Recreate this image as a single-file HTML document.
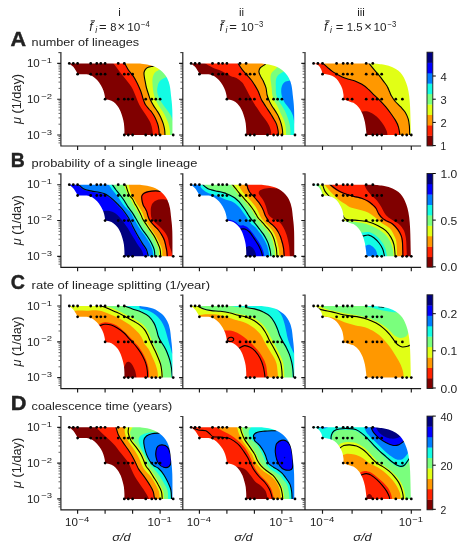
<!DOCTYPE html>
<html><head><meta charset="utf-8"><title>figure</title>
<style>html,body{margin:0;padding:0;background:#fff}svg{display:block}</style></head>
<body>
<svg width="469" height="550" viewBox="0 0 469 550" font-family="'Liberation Sans', sans-serif" fill="#000">
<rect width="469" height="550" fill="#fff"/>
<defs>
<mask id="cp00" maskUnits="userSpaceOnUse" x="0" y="0" width="469" height="550"><path d="M69,63.4C69.7,63.9 71.8,65.3 73,66.6C74.2,67.9 75.3,69.8 76.1,71.1C76.9,72.4 77.4,73.7 77.7,74.2L77.7,74.2C78.6,74.2 81.3,74.2 83,74.2C84.7,74.2 86.5,74.1 88.1,74.4C89.7,74.7 91.1,75.3 92.6,76.2C94.1,77.1 95.7,78.5 97.1,80C98.5,81.5 99.9,83.5 100.9,85.2C102,87 102.8,88.8 103.4,90.5C104,92.2 104.4,94 104.7,95.5C105,97 105,98.7 105,99.3L105,99.3C105.7,99.4 107.8,99.5 109.2,100C110.7,100.5 112.3,101.1 113.7,102.1C115.1,103.1 116.3,104.4 117.5,106C118.7,107.6 119.9,109.8 120.7,111.7C121.5,113.6 122.1,115.6 122.6,117.5C123.1,119.4 123.6,121.2 123.9,123.2C124.2,125.2 124.3,127.6 124.4,129.6C124.5,131.6 124.4,134.1 124.4,135L172.5,135C172.5,130.8 172.5,116.3 172.3,110C172.1,103.7 171.6,100.8 171.2,97C170.8,93.2 170.5,89.7 170,87C169.5,84.3 169.1,83 168.4,81.1C167.7,79.2 166.8,77.4 165.7,75.8C164.6,74.2 163.3,72.8 162,71.5C160.7,70.2 159.2,69.2 157.7,68.3C156.2,67.4 154.7,66.7 152.9,66C151.1,65.3 149.2,64.8 147,64.4C144.8,64 141.2,63.6 140,63.4Z" fill="#fff"/></mask>
<mask id="cp01" maskUnits="userSpaceOnUse" x="0" y="0" width="469" height="550"><path d="M190.8,63.4C191.5,63.9 193.6,65.3 194.8,66.6C196,67.9 197.1,69.8 197.9,71.1C198.7,72.4 199.2,73.7 199.5,74.2L199.5,74.2C200.4,74.2 203.1,74.2 204.8,74.2C206.5,74.2 208.3,74.1 209.9,74.4C211.5,74.7 212.9,75.3 214.4,76.2C215.9,77.1 217.5,78.5 218.9,80C220.3,81.5 221.6,83.5 222.7,85.2C223.8,87 224.6,88.8 225.2,90.5C225.8,92.2 226.2,94 226.5,95.5C226.8,97 226.8,98.7 226.8,99.3L226.8,99.3C227.5,99.4 229.6,99.5 231,100C232.4,100.5 234.1,101.1 235.5,102.1C236.9,103.1 238.1,104.4 239.3,106C240.5,107.6 241.7,109.8 242.5,111.7C243.3,113.6 243.9,115.6 244.4,117.5C244.9,119.4 245.4,121.2 245.7,123.2C246,125.2 246.1,127.6 246.2,129.6C246.3,131.6 246.2,134.1 246.2,135L294.3,135C294.3,130.8 294.3,116.3 294.1,110C293.9,103.7 293.4,100.8 293,97C292.6,93.2 292.3,89.7 291.8,87C291.3,84.3 290.9,83 290.2,81.1C289.5,79.2 288.6,77.4 287.5,75.8C286.4,74.2 285.1,72.8 283.8,71.5C282.5,70.2 281,69.2 279.5,68.3C278,67.4 276.5,66.7 274.7,66C272.9,65.3 270.9,64.8 268.8,64.4C266.7,64 263,63.6 261.8,63.4Z" fill="#fff"/></mask>
<mask id="cp02" maskUnits="userSpaceOnUse" x="0" y="0" width="469" height="550"><path d="M313.5,63.4C314.2,63.7 316.6,64.1 317.9,65.1C319.2,66.1 320.3,67.7 321.1,69.2C321.9,70.7 322.4,73.3 322.6,74.1L322.6,74.1C323.4,74.2 325.9,74.2 327.5,74.5C329.1,74.8 330.5,75.1 332,75.8C333.5,76.5 335.1,77.6 336.4,78.8C337.7,80 338.6,81.6 339.6,83.2C340.6,84.8 341.6,86.5 342.2,88.4C342.8,90.3 343.3,93 343.5,94.8C343.7,96.6 343.3,98.5 343.3,99.3L343.3,99.3C344.4,99.7 348.1,101 350,101.7C351.9,102.4 353,102.4 354.5,103.4C356,104.4 357.6,105.9 359,107.7C360.4,109.5 361.7,112 362.7,114.4C363.7,116.8 364.3,119.4 364.9,121.9C365.4,124.4 365.7,127.1 366,129.3C366.3,131.5 366.4,134.1 366.5,135L410.9,135C410.8,132.5 410.6,124.7 410.5,120C410.4,115.3 410.3,111 410.1,107C409.9,103 409.6,99.3 409.2,96C408.8,92.7 408.2,89.7 407.5,87C406.8,84.3 405.9,82 405,80C404.1,78 403.4,76.5 402.3,75C401.2,73.5 400.1,72.1 398.5,70.8C396.9,69.5 394.9,68.2 392.5,67.2C390.1,66.2 387.4,65.3 384.3,64.7C381.2,64.1 375.7,63.6 374,63.4Z" fill="#fff"/></mask>
<mask id="cp10" maskUnits="userSpaceOnUse" x="0" y="0" width="469" height="550"><path d="M69,184.7C69.7,185.2 71.8,186.6 73,187.9C74.2,189.2 75.3,191.1 76.1,192.4C76.9,193.7 77.4,195 77.7,195.5L77.7,195.5C78.6,195.5 81.3,195.5 83,195.5C84.7,195.5 86.5,195.4 88.1,195.7C89.7,196 91.1,196.6 92.6,197.5C94.1,198.4 95.7,199.8 97.1,201.3C98.5,202.8 99.9,204.8 100.9,206.5C102,208.2 102.8,210.1 103.4,211.8C104,213.5 104.4,215.3 104.7,216.8C105,218.3 105,220 105,220.6L105,220.6C105.7,220.7 107.8,220.8 109.2,221.3C110.7,221.8 112.3,222.4 113.7,223.4C115.1,224.4 116.3,225.7 117.5,227.3C118.7,228.9 119.9,231.1 120.7,233C121.5,234.9 122.1,236.9 122.6,238.8C123.1,240.7 123.6,242.5 123.9,244.5C124.2,246.5 124.3,248.9 124.4,250.9C124.5,252.9 124.4,255.4 124.4,256.3L172.5,256.3C172.5,252.1 172.5,237.6 172.3,231.3C172.1,225 171.6,222.1 171.2,218.3C170.8,214.5 170.5,211 170,208.3C169.5,205.7 169.1,204.3 168.4,202.4C167.7,200.5 166.8,198.7 165.7,197.1C164.6,195.5 163.3,194.1 162,192.8C160.7,191.6 159.2,190.5 157.7,189.6C156.2,188.7 154.7,188 152.9,187.3C151.1,186.7 149.2,186.1 147,185.7C144.8,185.3 141.2,184.9 140,184.7Z" fill="#fff"/></mask>
<mask id="cp11" maskUnits="userSpaceOnUse" x="0" y="0" width="469" height="550"><path d="M190.8,184.7C191.5,185.2 193.6,186.6 194.8,187.9C196,189.2 197.1,191.1 197.9,192.4C198.7,193.7 199.2,195 199.5,195.5L199.5,195.5C200.4,195.5 203.1,195.5 204.8,195.5C206.5,195.5 208.3,195.4 209.9,195.7C211.5,196 212.9,196.6 214.4,197.5C215.9,198.4 217.5,199.8 218.9,201.3C220.3,202.8 221.6,204.8 222.7,206.5C223.8,208.2 224.6,210.1 225.2,211.8C225.8,213.5 226.2,215.3 226.5,216.8C226.8,218.3 226.8,220 226.8,220.6L226.8,220.6C227.5,220.7 229.6,220.8 231,221.3C232.4,221.8 234.1,222.4 235.5,223.4C236.9,224.4 238.1,225.7 239.3,227.3C240.5,228.9 241.7,231.1 242.5,233C243.3,234.9 243.9,236.9 244.4,238.8C244.9,240.7 245.4,242.5 245.7,244.5C246,246.5 246.1,248.9 246.2,250.9C246.3,252.9 246.2,255.4 246.2,256.3L294.3,256.3C294.3,252.1 294.3,237.6 294.1,231.3C293.9,225 293.4,222.1 293,218.3C292.6,214.5 292.3,211 291.8,208.3C291.3,205.7 290.9,204.3 290.2,202.4C289.5,200.5 288.6,198.7 287.5,197.1C286.4,195.5 285.1,194.1 283.8,192.8C282.5,191.6 281,190.5 279.5,189.6C278,188.7 276.5,188 274.7,187.3C272.9,186.7 270.9,186.1 268.8,185.7C266.7,185.3 263,184.9 261.8,184.7Z" fill="#fff"/></mask>
<mask id="cp12" maskUnits="userSpaceOnUse" x="0" y="0" width="469" height="550"><path d="M313.5,184.7C314.2,185 316.6,185.4 317.9,186.4C319.2,187.4 320.3,189 321.1,190.5C321.9,192 322.4,194.6 322.6,195.4L322.6,195.4C323.4,195.5 325.9,195.5 327.5,195.8C329.1,196.1 330.5,196.4 332,197.1C333.5,197.8 335.1,198.9 336.4,200.1C337.7,201.3 338.6,202.9 339.6,204.5C340.6,206.1 341.6,207.8 342.2,209.7C342.8,211.6 343.3,214.3 343.5,216.1C343.7,217.9 343.3,219.8 343.3,220.6L343.3,220.6C344.4,221 348.1,222.3 350,223C351.9,223.7 353,223.7 354.5,224.7C356,225.7 357.6,227.2 359,229C360.4,230.8 361.7,233.3 362.7,235.7C363.7,238.1 364.3,240.7 364.9,243.2C365.4,245.7 365.7,248.4 366,250.6C366.3,252.8 366.4,255.4 366.5,256.3L410.9,256.3C410.8,253.8 410.6,246 410.5,241.3C410.4,236.6 410.3,232.3 410.1,228.3C409.9,224.3 409.6,220.6 409.2,217.3C408.8,214 408.2,211 407.5,208.3C406.8,205.6 405.9,203.3 405,201.3C404.1,199.3 403.4,197.8 402.3,196.3C401.2,194.8 400.1,193.4 398.5,192.1C396.9,190.8 394.9,189.5 392.5,188.5C390.1,187.5 387.4,186.6 384.3,186C381.2,185.4 375.7,184.9 374,184.7Z" fill="#fff"/></mask>
<mask id="cp20" maskUnits="userSpaceOnUse" x="0" y="0" width="469" height="550"><path d="M69,306C69.7,306.5 71.8,307.9 73,309.2C74.2,310.5 75.3,312.4 76.1,313.7C76.9,315 77.4,316.3 77.7,316.8L77.7,316.8C78.6,316.8 81.3,316.8 83,316.8C84.7,316.8 86.5,316.7 88.1,317C89.7,317.3 91.1,317.9 92.6,318.8C94.1,319.7 95.7,321.1 97.1,322.6C98.5,324.1 99.9,326.1 100.9,327.8C102,329.6 102.8,331.4 103.4,333.1C104,334.8 104.4,336.6 104.7,338.1C105,339.6 105,341.3 105,341.9L105,341.9C105.7,342 107.8,342.1 109.2,342.6C110.7,343.1 112.3,343.7 113.7,344.7C115.1,345.7 116.3,347 117.5,348.6C118.7,350.2 119.9,352.4 120.7,354.3C121.5,356.2 122.1,358.2 122.6,360.1C123.1,362 123.6,363.8 123.9,365.8C124.2,367.8 124.3,370.2 124.4,372.2C124.5,374.2 124.4,376.7 124.4,377.6L172.5,377.6C172.5,373.4 172.5,358.9 172.3,352.6C172.1,346.3 171.6,343.4 171.2,339.6C170.8,335.8 170.5,332.2 170,329.6C169.5,327 169.1,325.6 168.4,323.7C167.7,321.8 166.8,320 165.7,318.4C164.6,316.8 163.3,315.4 162,314.1C160.7,312.9 159.2,311.8 157.7,310.9C156.2,310 154.7,309.2 152.9,308.6C151.1,308 149.2,307.4 147,307C144.8,306.6 141.2,306.2 140,306Z" fill="#fff"/></mask>
<mask id="cp21" maskUnits="userSpaceOnUse" x="0" y="0" width="469" height="550"><path d="M190.8,306C191.5,306.5 193.6,307.9 194.8,309.2C196,310.5 197.1,312.4 197.9,313.7C198.7,315 199.2,316.3 199.5,316.8L199.5,316.8C200.4,316.8 203.1,316.8 204.8,316.8C206.5,316.8 208.3,316.7 209.9,317C211.5,317.3 212.9,317.9 214.4,318.8C215.9,319.7 217.5,321.1 218.9,322.6C220.3,324.1 221.6,326.1 222.7,327.8C223.8,329.6 224.6,331.4 225.2,333.1C225.8,334.8 226.2,336.6 226.5,338.1C226.8,339.6 226.8,341.3 226.8,341.9L226.8,341.9C227.5,342 229.6,342.1 231,342.6C232.4,343.1 234.1,343.7 235.5,344.7C236.9,345.7 238.1,347 239.3,348.6C240.5,350.2 241.7,352.4 242.5,354.3C243.3,356.2 243.9,358.2 244.4,360.1C244.9,362 245.4,363.8 245.7,365.8C246,367.8 246.1,370.2 246.2,372.2C246.3,374.2 246.2,376.7 246.2,377.6L294.3,377.6C294.3,373.4 294.3,358.9 294.1,352.6C293.9,346.3 293.4,343.4 293,339.6C292.6,335.8 292.3,332.2 291.8,329.6C291.3,327 290.9,325.6 290.2,323.7C289.5,321.8 288.6,320 287.5,318.4C286.4,316.8 285.1,315.4 283.8,314.1C282.5,312.9 281,311.8 279.5,310.9C278,310 276.5,309.2 274.7,308.6C272.9,308 270.9,307.4 268.8,307C266.7,306.6 263,306.2 261.8,306Z" fill="#fff"/></mask>
<mask id="cp22" maskUnits="userSpaceOnUse" x="0" y="0" width="469" height="550"><path d="M313.5,306C314.2,306.3 316.6,306.7 317.9,307.7C319.2,308.7 320.3,310.3 321.1,311.8C321.9,313.3 322.4,315.9 322.6,316.7L322.6,316.7C323.4,316.8 325.9,316.8 327.5,317.1C329.1,317.4 330.5,317.7 332,318.4C333.5,319.1 335.1,320.2 336.4,321.4C337.7,322.6 338.6,324.2 339.6,325.8C340.6,327.4 341.6,329.1 342.2,331C342.8,332.9 343.3,335.6 343.5,337.4C343.7,339.2 343.3,341.1 343.3,341.9L343.3,341.9C344.4,342.3 348.1,343.6 350,344.3C351.9,345 353,345 354.5,346C356,347 357.6,348.5 359,350.3C360.4,352.1 361.7,354.6 362.7,357C363.7,359.4 364.3,362 364.9,364.5C365.4,367 365.7,369.7 366,371.9C366.3,374.1 366.4,376.7 366.5,377.6L410.9,377.6C410.8,375.1 410.6,367.3 410.5,362.6C410.4,357.9 410.3,353.6 410.1,349.6C409.9,345.6 409.6,341.9 409.2,338.6C408.8,335.3 408.2,332.3 407.5,329.6C406.8,326.9 405.9,324.6 405,322.6C404.1,320.6 403.4,319.1 402.3,317.6C401.2,316.1 400.1,314.7 398.5,313.4C396.9,312.1 394.9,310.8 392.5,309.8C390.1,308.8 387.4,307.9 384.3,307.3C381.2,306.7 375.7,306.2 374,306Z" fill="#fff"/></mask>
<mask id="cp30" maskUnits="userSpaceOnUse" x="0" y="0" width="469" height="550"><path d="M69,427.3C69.7,427.8 71.8,429.2 73,430.5C74.2,431.8 75.3,433.7 76.1,435C76.9,436.3 77.4,437.6 77.7,438.1L77.7,438.1C78.6,438.1 81.3,438.1 83,438.1C84.7,438.1 86.5,438 88.1,438.3C89.7,438.6 91.1,439.2 92.6,440.1C94.1,441 95.7,442.4 97.1,443.9C98.5,445.4 99.9,447.3 100.9,449.1C102,450.8 102.8,452.7 103.4,454.4C104,456.1 104.4,457.9 104.7,459.4C105,460.9 105,462.6 105,463.2L105,463.2C105.7,463.3 107.8,463.4 109.2,463.9C110.7,464.4 112.3,465 113.7,466C115.1,467 116.3,468.3 117.5,469.9C118.7,471.5 119.9,473.7 120.7,475.6C121.5,477.5 122.1,479.5 122.6,481.4C123.1,483.3 123.6,485.1 123.9,487.1C124.2,489.1 124.3,491.5 124.4,493.5C124.5,495.5 124.4,498 124.4,498.9L172.5,498.9C172.5,494.7 172.5,480.2 172.3,473.9C172.1,467.6 171.6,464.7 171.2,460.9C170.8,457.1 170.5,453.5 170,450.9C169.5,448.2 169.1,446.9 168.4,445C167.7,443.1 166.8,441.3 165.7,439.7C164.6,438.1 163.3,436.6 162,435.4C160.7,434.1 159.2,433.1 157.7,432.2C156.2,431.3 154.7,430.5 152.9,429.9C151.1,429.2 149.2,428.7 147,428.3C144.8,427.9 141.2,427.5 140,427.3Z" fill="#fff"/></mask>
<mask id="cp31" maskUnits="userSpaceOnUse" x="0" y="0" width="469" height="550"><path d="M190.8,427.3C191.5,427.8 193.6,429.2 194.8,430.5C196,431.8 197.1,433.7 197.9,435C198.7,436.3 199.2,437.6 199.5,438.1L199.5,438.1C200.4,438.1 203.1,438.1 204.8,438.1C206.5,438.1 208.3,438 209.9,438.3C211.5,438.6 212.9,439.2 214.4,440.1C215.9,441 217.5,442.4 218.9,443.9C220.3,445.4 221.6,447.3 222.7,449.1C223.8,450.8 224.6,452.7 225.2,454.4C225.8,456.1 226.2,457.9 226.5,459.4C226.8,460.9 226.8,462.6 226.8,463.2L226.8,463.2C227.5,463.3 229.6,463.4 231,463.9C232.4,464.4 234.1,465 235.5,466C236.9,467 238.1,468.3 239.3,469.9C240.5,471.5 241.7,473.7 242.5,475.6C243.3,477.5 243.9,479.5 244.4,481.4C244.9,483.3 245.4,485.1 245.7,487.1C246,489.1 246.1,491.5 246.2,493.5C246.3,495.5 246.2,498 246.2,498.9L294.3,498.9C294.3,494.7 294.3,480.2 294.1,473.9C293.9,467.6 293.4,464.7 293,460.9C292.6,457.1 292.3,453.5 291.8,450.9C291.3,448.2 290.9,446.9 290.2,445C289.5,443.1 288.6,441.3 287.5,439.7C286.4,438.1 285.1,436.6 283.8,435.4C282.5,434.1 281,433.1 279.5,432.2C278,431.3 276.5,430.5 274.7,429.9C272.9,429.2 270.9,428.7 268.8,428.3C266.7,427.9 263,427.5 261.8,427.3Z" fill="#fff"/></mask>
<mask id="cp32" maskUnits="userSpaceOnUse" x="0" y="0" width="469" height="550"><path d="M313.5,427.3C314.2,427.6 316.6,428 317.9,429C319.2,430 320.3,431.6 321.1,433.1C321.9,434.6 322.4,437.2 322.6,438L322.6,438C323.4,438.1 325.9,438.1 327.5,438.4C329.1,438.7 330.5,439 332,439.7C333.5,440.4 335.1,441.5 336.4,442.7C337.7,443.9 338.6,445.5 339.6,447.1C340.6,448.7 341.6,450.4 342.2,452.3C342.8,454.2 343.3,456.9 343.5,458.7C343.7,460.5 343.3,462.4 343.3,463.2L343.3,463.2C344.4,463.6 348.1,464.9 350,465.6C351.9,466.3 353,466.3 354.5,467.3C356,468.3 357.6,469.8 359,471.6C360.4,473.4 361.7,475.9 362.7,478.3C363.7,480.7 364.3,483.3 364.9,485.8C365.4,488.3 365.7,491 366,493.2C366.3,495.4 366.4,497.9 366.5,498.9L410.9,498.9C410.8,496.4 410.6,488.6 410.5,483.9C410.4,479.2 410.3,474.9 410.1,470.9C409.9,466.9 409.6,463.2 409.2,459.9C408.8,456.6 408.2,453.6 407.5,450.9C406.8,448.2 405.9,445.9 405,443.9C404.1,441.9 403.4,440.4 402.3,438.9C401.2,437.4 400.1,436 398.5,434.7C396.9,433.4 394.9,432.1 392.5,431.1C390.1,430.1 387.4,429.2 384.3,428.6C381.2,428 375.7,427.5 374,427.3Z" fill="#fff"/></mask>
</defs>
<g mask="url(#cp00)">
<rect x="57.3" y="55.4" width="131.7" height="87.6" fill="#800000"/>
<g transform="translate(0.5,0)">
<path d="M111.2,61.1C111.5,61.5 111.7,61.8 113,63.5C114.3,65.2 117,68.8 119,71.4C121,74 123,76.3 125,78.9C127,81.5 129.4,84.3 131,87C132.6,89.7 133.6,92.6 134.7,95C135.8,97.4 136.3,99.3 137.3,101.4C138.3,103.5 139.2,105.7 140.5,107.8C141.8,109.9 143.5,112.1 144.9,114.2C146.3,116.3 147.7,118.5 148.8,120.6C149.9,122.7 150.7,124.5 151.3,127C151.9,129.4 152.3,133.4 152.6,135.3C152.9,137.2 153,137.8 153.1,138.3L189,138.3L189,55.4L111.2,55.4Z" fill="#ff2200"/>
<path d="M122.7,60.9C123,61.3 123.3,62 124.2,63.5C125.1,65 126.4,67.8 127.9,70C129.4,72.2 131.6,74.3 133.1,76.6C134.6,78.9 135.9,81.5 137,83.8C138.1,86.1 139.1,88.4 139.9,90.3C140.7,92.2 141.1,93.8 141.6,95.4C142.1,97 142.3,98.1 142.9,99.7C143.5,101.3 144,103.2 145,104.8C146,106.4 147.8,108.2 148.8,109.5C149.9,110.8 150.4,111 151.3,112.3C152.2,113.6 153.5,115.5 154.5,117.4C155.5,119.3 156.4,121.8 157.1,123.8C157.8,125.8 158.1,127.6 158.4,129.5C158.7,131.4 158.6,133.8 158.7,135.3C158.8,136.8 158.8,137.8 158.9,138.3L189,138.3L189,55.4L122.7,55.4Z" fill="#ff9800"/>
<path d="M155.3,65.5C154.8,65.6 153.7,65.9 152.4,66.2C151.1,66.5 148.8,66.8 147.6,67.3C146.3,67.8 145.6,68.5 144.9,69.4C144.2,70.3 143.7,71.3 143.5,72.6C143.3,73.9 143.7,75.7 143.9,77.4C144.1,79.1 144.6,80.9 144.9,82.7C145.2,84.5 145.5,86.1 146,88C146.5,89.9 147.3,92.2 148,94.2C148.7,96.2 149.1,98.1 150,100.1C150.9,102 152,104 153.2,105.9C154.4,107.8 155.9,109.7 157.1,111.6C158.3,113.5 159.4,115.4 160.3,117.4C161.2,119.4 162.2,121.8 162.8,123.8C163.4,125.8 163.8,127.6 164.1,129.5C164.4,131.4 164.4,133.8 164.5,135.3C164.6,136.8 164.7,137.8 164.7,138.3L189,138.3L189,55.4L155.3,55.4Z" fill="#e1ff16"/>
<path d="M161.9,67.8C161.4,68.1 160.4,68.7 159.3,69.4C158.2,70.1 156.1,71 155,72C153.9,73 153.4,74 152.9,75.3C152.4,76.5 152,77.9 151.9,79.5C151.8,81.1 152,83.1 152.1,84.9C152.2,86.7 152.4,88.5 152.6,90.2C152.8,91.9 153.1,93.3 153.5,95C153.9,96.7 154.4,98.3 155.2,100.1C156,101.9 157.2,104 158.4,105.9C159.6,107.8 161,109.7 162.2,111.6C163.4,113.5 164.4,115.4 165.4,117.4C166.4,119.4 167.4,121.8 168,123.8C168.6,125.8 168.9,127.6 169.2,129.5C169.5,131.4 169.5,133.8 169.6,135.3C169.7,136.8 169.8,137.8 169.8,138.3L189,138.3L189,55.4L161.9,55.4Z" fill="#7aff7d"/>
<path d="M168.9,75.6C168.4,75.8 167.3,76.3 166.2,76.9C165.1,77.5 163.2,78.2 162,79C160.8,79.8 159.6,80.5 158.8,81.7C158,82.9 157.5,84.3 157.2,85.9C156.8,87.5 156.6,89.7 156.7,91.2C156.8,92.7 157,93.5 157.5,95C158,96.5 158.6,98.3 159.6,100.1C160.6,101.9 162.2,104.1 163.5,105.9C164.8,107.7 166.1,109.3 167.3,111C168.5,112.7 169.7,114.5 170.5,116.1C171.3,117.7 171.7,119.4 172.2,120.6C172.7,121.8 173.1,122.9 173.3,123.4L189,123.4L189,55.4L168.9,55.4Z" fill="#13fce4"/>
<path d="M123.2,61.8C123.4,62.1 123.4,62.1 124.2,63.5C125,64.9 126.4,67.8 127.9,70C129.4,72.2 131.6,74.3 133.1,76.6C134.6,78.9 135.9,81.5 137,83.8C138.1,86.1 139.1,88.4 139.9,90.3C140.7,92.2 141.1,93.8 141.6,95.4C142.1,97 142.3,98.1 142.9,99.7C143.5,101.3 144,103.2 145,104.8C146,106.4 147.8,108.2 148.8,109.5C149.9,110.8 150.4,111 151.3,112.3C152.2,113.6 153.5,115.5 154.5,117.4C155.5,119.3 156.4,121.8 157.1,123.8C157.8,125.8 158.1,127.6 158.4,129.5C158.7,131.4 158.6,134 158.7,135.3C158.8,136.6 158.8,137 158.8,137.3" fill="none" stroke="#000" stroke-width="1.1"/>
<path d="M154.3,65.8C154,65.8 153.5,65.9 152.4,66.2C151.3,66.5 148.8,66.8 147.6,67.3C146.3,67.8 145.6,68.5 144.9,69.4C144.2,70.3 143.7,71.3 143.5,72.6C143.3,73.9 143.7,75.7 143.9,77.4C144.1,79.1 144.6,80.9 144.9,82.7C145.2,84.5 145.5,86.1 146,88C146.5,89.9 147.3,92.2 148,94.2C148.7,96.2 149.1,98.1 150,100.1C150.9,102 152,104 153.2,105.9C154.4,107.8 155.9,109.7 157.1,111.6C158.3,113.5 159.4,115.4 160.3,117.4C161.2,119.4 162.2,121.8 162.8,123.8C163.4,125.8 163.8,127.6 164.1,129.5C164.4,131.4 164.4,134 164.5,135.3C164.6,136.6 164.6,137 164.6,137.3" fill="none" stroke="#000" stroke-width="1.1"/>
</g>
</g>
<g><circle cx="69.3" cy="63.4" r="1.38"/><circle cx="73.3" cy="63.4" r="1.38"/><circle cx="77.6" cy="63.4" r="1.38"/><circle cx="90.7" cy="63.4" r="1.38"/><circle cx="96.8" cy="63.4" r="1.38"/><circle cx="100.8" cy="63.4" r="1.38"/><circle cx="105.1" cy="63.4" r="1.38"/><circle cx="118.2" cy="63.4" r="1.38"/><circle cx="124.3" cy="63.4" r="1.38"/><circle cx="77.6" cy="74.2" r="1.38"/><circle cx="90.7" cy="74.2" r="1.38"/><circle cx="96.8" cy="74.2" r="1.38"/><circle cx="100.8" cy="74.2" r="1.38"/><circle cx="105.1" cy="74.2" r="1.38"/><circle cx="118.2" cy="74.2" r="1.38"/><circle cx="124.3" cy="74.2" r="1.38"/><circle cx="128.3" cy="74.2" r="1.38"/><circle cx="132.6" cy="74.2" r="1.38"/><circle cx="105.1" cy="99.2" r="1.38"/><circle cx="118.2" cy="99.2" r="1.38"/><circle cx="124.3" cy="99.2" r="1.38"/><circle cx="128.3" cy="99.2" r="1.38"/><circle cx="132.6" cy="99.2" r="1.38"/><circle cx="145.7" cy="99.2" r="1.38"/><circle cx="151.8" cy="99.2" r="1.38"/><circle cx="155.8" cy="99.2" r="1.38"/><circle cx="160.1" cy="99.2" r="1.38"/><circle cx="124.3" cy="135" r="1.38"/><circle cx="128.3" cy="135" r="1.38"/><circle cx="132.6" cy="135" r="1.38"/><circle cx="145.7" cy="135" r="1.38"/><circle cx="151.8" cy="135" r="1.38"/><circle cx="155.8" cy="135" r="1.38"/><circle cx="160.1" cy="135" r="1.38"/><circle cx="173.2" cy="135" r="1.38"/></g>
<g mask="url(#cp01)">
<rect x="179" y="55.4" width="132" height="87.6" fill="#800000"/>
<g transform="translate(0.5,0)">
<path d="M201.7,61.9C202.1,62.1 202.6,62.4 204.3,63.3C206,64.2 209.2,66.2 212,67.5C214.8,68.8 218,69.6 221,71C224,72.4 227.5,74.8 230,75.9C232.5,77.1 234.1,76.9 236,77.9C237.9,79 240.1,80.8 241.5,82.2C242.9,83.6 243.4,85 244.3,86.5C245.2,88 245.8,89.3 246.7,91.1C247.6,92.9 248.8,95.1 249.9,97.1C251,99.1 252.2,101.2 253.3,103.1C254.5,104.9 255.6,106.4 256.8,108.2C258,110 259.1,112 260.4,113.8C261.7,115.6 263.3,117.4 264.6,119.3C265.9,121.2 267.3,123.1 268.3,125C269.3,126.9 270,129.1 270.4,130.8C270.8,132.5 270.6,134.1 270.7,135.3C270.8,136.5 270.9,137.8 270.9,138.3L311,138.3L311,55.4L201.7,55.4Z" fill="#ff2200"/>
<path d="M235.8,60.8C236.1,61.2 236.5,61.8 237.5,63.3C238.5,64.8 240.3,67.8 241.9,69.9C243.5,72 245.7,74.2 247.2,75.9C248.7,77.6 249.6,78.5 250.8,80C252,81.5 253.1,83.4 254.2,85.1C255.3,86.8 256.3,88.6 257.2,90.3C258.1,92 258.7,93.8 259.3,95.4C259.9,97 260.3,98.3 261,99.7C261.7,101.1 262.6,102.3 263.6,103.9C264.6,105.5 265.9,107.4 267,109.1C268.1,110.8 269.3,112.5 270.4,114.2C271.4,115.9 272.4,117.3 273.3,119C274.2,120.7 275.4,122.5 276.1,124.4C276.8,126.3 277.2,128.4 277.5,130.2C277.8,132 277.9,134 278,135.3C278.1,136.6 278.2,137.8 278.3,138.3L311,138.3L311,55.4L235.8,55.4Z" fill="#ff9800"/>
<path d="M266.1,63.4C265.6,63.7 264.6,64.4 263.6,65.1C262.6,65.8 260.8,66.7 259.9,67.7C259,68.8 258.4,70 258.4,71.4C258.4,72.8 259.2,74.3 259.9,75.9C260.6,77.5 261.9,79.1 262.8,81.1C263.7,83.1 264.9,85.5 265.5,87.8C266.1,90.1 266.1,92.9 266.6,95C267.1,97.1 267.8,98.7 268.6,100.6C269.4,102.5 270.5,104.4 271.6,106.2C272.7,108 274.1,109.7 275.2,111.6C276.3,113.5 277.5,115.4 278.4,117.4C279.3,119.4 280.1,121.7 280.7,123.8C281.3,125.9 281.8,128.3 282,130.2C282.2,132.1 282.1,134 282.2,135.3C282.3,136.6 282.3,137.8 282.3,138.3L311,138.3L311,55.4L266.1,55.4Z" fill="#e1ff16"/>
<path d="M276.9,67.1C276.6,67.5 275.8,68.2 274.8,69.2C273.8,70.2 271.8,71.5 271,72.9C270.2,74.3 270.1,75.7 270,77.4C269.9,79.2 270.4,81.4 270.6,83.4C270.8,85.4 271.1,87.4 271.3,89.3C271.5,91.2 271.4,93.1 271.8,95C272.2,96.9 272.7,98.7 273.6,100.6C274.5,102.5 276,104.2 277,106.2C278,108.2 278.6,110.2 279.6,112.3C280.6,114.4 281.9,116.6 282.8,118.7C283.7,120.8 284.4,123 284.8,125C285.2,127 285.2,129.1 285.4,130.8C285.5,132.5 285.6,134.1 285.7,135.3C285.8,136.5 285.9,137.8 285.9,138.3L311,138.3L311,55.4L276.9,55.4Z" fill="#7aff7d"/>
<path d="M284.7,70.5C284.3,70.8 283.4,71.4 282.2,72.2C281,73 278.9,73.9 277.8,75.1C276.7,76.3 275.9,77.7 275.5,79.6C275.1,81.5 275.3,83.9 275.3,86.3C275.3,88.7 275.2,91.6 275.6,93.8C276,96 276.6,97.6 277.5,99.5C278.4,101.4 279.7,103.1 280.9,105C282.1,106.9 283.4,108.8 284.5,111C285.6,113.2 286.5,115.8 287.3,118C288.1,120.2 288.8,122.4 289.2,124.4C289.6,126.4 289.8,128.4 289.9,130.2C290,132 289.9,134 289.9,135.3C289.9,136.7 289.9,137.8 289.9,138.3L311,138.3L311,55.4L284.7,55.4Z" fill="#13fce4"/>
<path d="M292.6,79.6C292.1,79.8 290.9,80.1 289.7,80.4C288.5,80.7 286.5,80.8 285.2,81.6C283.9,82.3 282.6,83.5 281.9,84.9C281.1,86.3 280.8,88.2 280.7,90.1C280.6,91.9 280.9,94.2 281.3,96C281.7,97.8 282.3,99.4 283.2,101C284.1,102.6 285.5,104.2 286.6,105.8C287.7,107.3 288.9,108.7 289.9,110.3C290.9,111.9 291.8,113.8 292.4,115.5C293,117.2 293.2,119.3 293.5,120.6C293.8,121.9 294,123 294.1,123.5L311,123.5L311,55.4L292.6,55.4Z" fill="#007dff"/>
<path d="M236.4,61.6C236.6,61.9 236.6,61.9 237.5,63.3C238.4,64.7 240.3,67.8 241.9,69.9C243.5,72 245.7,74.2 247.2,75.9C248.7,77.6 249.6,78.5 250.8,80C252,81.5 253.1,83.4 254.2,85.1C255.3,86.8 256.3,88.6 257.2,90.3C258.1,92 258.7,93.8 259.3,95.4C259.9,97 260.3,98.3 261,99.7C261.7,101.1 262.6,102.3 263.6,103.9C264.6,105.5 265.9,107.4 267,109.1C268.1,110.8 269.3,112.5 270.4,114.2C271.4,115.9 272.4,117.3 273.3,119C274.2,120.7 275.4,122.5 276.1,124.4C276.8,126.3 277.2,128.4 277.5,130.2C277.8,132 277.9,134.1 278,135.3C278.1,136.5 278.2,137 278.2,137.3" fill="none" stroke="#000" stroke-width="1.1"/>
<path d="M265.2,64C265,64.1 264.5,64.5 263.6,65.1C262.7,65.7 260.8,66.7 259.9,67.7C259,68.8 258.4,70 258.4,71.4C258.4,72.8 259.2,74.3 259.9,75.9C260.6,77.5 261.9,79.1 262.8,81.1C263.7,83.1 264.9,85.5 265.5,87.8C266.1,90.1 266.1,92.9 266.6,95C267.1,97.1 267.8,98.7 268.6,100.6C269.4,102.5 270.5,104.4 271.6,106.2C272.7,108 274.1,109.7 275.2,111.6C276.3,113.5 277.5,115.4 278.4,117.4C279.3,119.4 280.1,121.7 280.7,123.8C281.3,125.9 281.8,128.3 282,130.2C282.2,132.1 282.2,134.1 282.2,135.3C282.2,136.5 282.3,137 282.3,137.3" fill="none" stroke="#000" stroke-width="1.1"/>
</g>
</g>
<g><circle cx="191.1" cy="63.4" r="1.38"/><circle cx="195.1" cy="63.4" r="1.38"/><circle cx="199.4" cy="63.4" r="1.38"/><circle cx="212.5" cy="63.4" r="1.38"/><circle cx="218.6" cy="63.4" r="1.38"/><circle cx="222.6" cy="63.4" r="1.38"/><circle cx="226.9" cy="63.4" r="1.38"/><circle cx="240" cy="63.4" r="1.38"/><circle cx="246.1" cy="63.4" r="1.38"/><circle cx="199.4" cy="74.2" r="1.38"/><circle cx="212.5" cy="74.2" r="1.38"/><circle cx="218.6" cy="74.2" r="1.38"/><circle cx="222.6" cy="74.2" r="1.38"/><circle cx="226.9" cy="74.2" r="1.38"/><circle cx="240" cy="74.2" r="1.38"/><circle cx="246.1" cy="74.2" r="1.38"/><circle cx="250.1" cy="74.2" r="1.38"/><circle cx="254.4" cy="74.2" r="1.38"/><circle cx="226.9" cy="99.2" r="1.38"/><circle cx="240" cy="99.2" r="1.38"/><circle cx="246.1" cy="99.2" r="1.38"/><circle cx="250.1" cy="99.2" r="1.38"/><circle cx="254.4" cy="99.2" r="1.38"/><circle cx="267.5" cy="99.2" r="1.38"/><circle cx="273.6" cy="99.2" r="1.38"/><circle cx="277.6" cy="99.2" r="1.38"/><circle cx="281.9" cy="99.2" r="1.38"/><circle cx="246.1" cy="135" r="1.38"/><circle cx="250.1" cy="135" r="1.38"/><circle cx="254.4" cy="135" r="1.38"/><circle cx="267.5" cy="135" r="1.38"/><circle cx="273.6" cy="135" r="1.38"/><circle cx="277.6" cy="135" r="1.38"/><circle cx="281.9" cy="135" r="1.38"/><circle cx="295" cy="135" r="1.38"/></g>
<g mask="url(#cp02)">
<rect x="301" y="55.4" width="126.2" height="87.6" fill="#ff2200"/>
<g transform="translate(0.0,0)">
<path d="M359.7,111.4C360.2,111.4 361.3,111.4 362.7,111.4C364.1,111.4 366,110.9 367.9,111.4C369.8,111.9 372,113.2 373.9,114.4C375.8,115.7 377.5,117.2 379.1,118.9C380.7,120.7 382.4,122.9 383.6,124.9C384.9,126.9 385.9,129.1 386.6,130.8C387.3,132.5 387.3,134.1 387.6,135.3C387.9,136.5 388.1,137.7 388.3,138.2L388.3,143L301,143L301,111.4Z" fill="#800000"/>
<path d="M320.8,61.3C321.1,61.6 321.9,62.3 323,63.3C324.1,64.3 326,66 327.5,67.3C329,68.6 330.4,69.9 332,71.1C333.6,72.3 335.4,73.3 337.1,74.3C338.8,75.3 340.3,76.1 342.2,76.9C344.1,77.7 346.5,78.5 348.6,79.2C350.7,79.9 352.8,80.1 355,80.9C357.2,81.8 359.8,83 361.9,84.3C364,85.6 365.9,87 367.9,88.8C369.9,90.5 372,92.9 373.9,94.8C375.8,96.7 377.5,98.1 379.5,100.1C381.5,102.1 383.9,104.6 385.8,106.9C387.7,109.2 389.4,111.5 391,113.7C392.6,116 394.2,118.2 395.5,120.4C396.8,122.6 397.8,124.6 398.5,127.1C399.2,129.6 399.7,133.4 400,135.3C400.3,137.2 400.4,137.8 400.5,138.3L427.2,138.3L427.2,55.4L320.8,55.4Z" fill="#ff9800"/>
<path d="M367.2,61.1C367.5,61.4 368,62 369.1,63.4C370.2,64.8 372.2,67.4 373.9,69.4C375.6,71.4 377.5,73.4 379.1,75.4C380.7,77.4 382.2,79.4 383.6,81.3C385,83.2 386.3,84.8 387.3,86.6C388.3,88.3 388.9,90.2 389.6,91.8C390.3,93.4 390.6,94.5 391.5,96C392.4,97.5 393.3,99.2 394.8,101C396.3,102.8 399,105 400.7,106.9C402.4,108.8 403.9,110.2 405.2,112.2C406.4,114.2 407.5,116.6 408.2,118.9C408.9,121.2 409.1,123.6 409.4,126.3C409.6,129 409.6,133.3 409.7,135.3C409.8,137.3 409.8,137.8 409.8,138.3L427.2,138.3L427.2,55.4L367.2,55.4Z" fill="#e1ff16"/>
<path d="M321.5,62C321.8,62.2 322,62.4 323,63.3C324,64.2 326,66 327.5,67.3C329,68.6 330.4,69.9 332,71.1C333.6,72.3 335.4,73.3 337.1,74.3C338.8,75.3 340.3,76.1 342.2,76.9C344.1,77.7 346.5,78.5 348.6,79.2C350.7,79.9 352.8,80.1 355,80.9C357.2,81.8 359.8,83 361.9,84.3C364,85.6 365.9,87 367.9,88.8C369.9,90.5 372,92.9 373.9,94.8C375.8,96.7 377.5,98.1 379.5,100.1C381.5,102.1 383.9,104.6 385.8,106.9C387.7,109.2 389.4,111.5 391,113.7C392.6,116 394.2,118.2 395.5,120.4C396.8,122.6 397.8,124.6 398.5,127.1C399.2,129.6 399.7,133.6 400,135.3C400.3,137 400.3,136.9 400.4,137.3" fill="none" stroke="#000" stroke-width="1.1"/>
<path d="M367.9,61.8C368.1,62.1 368.1,62.1 369.1,63.4C370.1,64.7 372.2,67.4 373.9,69.4C375.6,71.4 377.5,73.4 379.1,75.4C380.7,77.4 382.2,79.4 383.6,81.3C385,83.2 386.3,84.8 387.3,86.6C388.3,88.3 388.9,90.2 389.6,91.8C390.3,93.4 390.6,94.5 391.5,96C392.4,97.5 393.3,99.2 394.8,101C396.3,102.8 399,105 400.7,106.9C402.4,108.8 403.9,110.2 405.2,112.2C406.4,114.2 407.5,116.6 408.2,118.9C408.9,121.2 409.1,123.6 409.4,126.3C409.6,129 409.6,133.5 409.7,135.3C409.8,137.1 409.8,137 409.8,137.3" fill="none" stroke="#000" stroke-width="1.1"/>
</g>
</g>
<g><circle cx="313.6" cy="63.4" r="1.38"/><circle cx="317.9" cy="63.4" r="1.38"/><circle cx="322.5" cy="63.4" r="1.38"/><circle cx="336.6" cy="63.4" r="1.38"/><circle cx="343.2" cy="63.4" r="1.38"/><circle cx="347.5" cy="63.4" r="1.38"/><circle cx="352.1" cy="63.4" r="1.38"/><circle cx="366.2" cy="63.4" r="1.38"/><circle cx="372.8" cy="63.4" r="1.38"/><circle cx="322.5" cy="74.2" r="1.38"/><circle cx="336.6" cy="74.2" r="1.38"/><circle cx="343.2" cy="74.2" r="1.38"/><circle cx="347.5" cy="74.2" r="1.38"/><circle cx="352.1" cy="74.2" r="1.38"/><circle cx="366.2" cy="74.2" r="1.38"/><circle cx="372.8" cy="74.2" r="1.38"/><circle cx="377.1" cy="74.2" r="1.38"/><circle cx="381.7" cy="74.2" r="1.38"/><circle cx="343.2" cy="99.2" r="1.38"/><circle cx="347.5" cy="99.2" r="1.38"/><circle cx="352.1" cy="99.2" r="1.38"/><circle cx="366.2" cy="99.2" r="1.38"/><circle cx="372.8" cy="99.2" r="1.38"/><circle cx="377.1" cy="99.2" r="1.38"/><circle cx="381.7" cy="99.2" r="1.38"/><circle cx="395.8" cy="99.2" r="1.38"/><circle cx="402.4" cy="99.2" r="1.38"/><circle cx="366.2" cy="135" r="1.38"/><circle cx="372.8" cy="135" r="1.38"/><circle cx="377.1" cy="135" r="1.38"/><circle cx="381.7" cy="135" r="1.38"/><circle cx="395.8" cy="135" r="1.38"/><circle cx="402.4" cy="135" r="1.38"/><circle cx="406.7" cy="135" r="1.38"/><circle cx="411.3" cy="135" r="1.38"/></g>
<g mask="url(#cp10)">
<rect x="57.3" y="176.7" width="131.7" height="87.6" fill="#0000ff"/>
<g transform="translate(0.5,0)">
<path d="M98,212C98.5,211.9 100,211.7 101,211.5C102,211.3 102.5,211.1 103.8,211C105.1,210.9 107.3,210.7 109.1,211C110.9,211.3 112.7,212 114.4,213.1C116.1,214.2 117.7,215.8 119.2,217.4C120.7,219 122.2,220.9 123.5,222.7C124.8,224.5 126,226.2 127.2,228C128.3,229.8 129.3,231.7 130.4,233.4C131.5,235.2 132.3,236.6 133.5,238.5C134.7,240.4 136.2,243 137.5,245C138.8,247 140.3,248.6 141.3,250.5C142.3,252.4 142.9,255.1 143.4,256.6C143.9,258.1 144.2,259 144.4,259.4L144.4,264.3L57.3,264.3L57.3,212Z" fill="#000080"/>
<path d="M74.8,181C75.1,181.4 76,182.8 76.5,183.5C77,184.2 76.6,184.2 77.6,185.1C78.6,186 80.4,188.1 82.4,189.2C84.5,190.2 87.3,190.8 89.9,191.4C92.5,192 95.8,192.3 98,192.7C100.2,193.1 101.5,193.4 103,194C104.5,194.6 105.5,195 107,196.1C108.5,197.2 110.5,198.7 112.3,200.3C114.1,201.9 115.9,203.9 117.6,205.7C119.3,207.5 121,209.2 122.4,211C123.8,212.8 125,214.5 126.2,216.3C127.4,218.1 128.5,219.9 129.4,221.7C130.3,223.5 130.9,225.2 131.8,227C132.7,228.8 133.7,230.6 134.6,232.3C135.5,234 136.2,235.4 137.4,237.4C138.6,239.4 140.2,242 141.5,244.1C142.8,246.2 144.4,248 145.4,250.1C146.4,252.2 146.8,255 147.3,256.6C147.8,258.2 148,259 148.1,259.5L189,259.5L189,176.7L74.8,176.7Z" fill="#007dff"/>
<path d="M106.2,182.2C106.5,182.6 107.1,183.3 108,184.6C108.9,185.9 110.4,187.9 111.7,189.7C113,191.4 114.6,193.2 116,195.1C117.4,197 118.8,198.9 120.2,200.9C121.6,202.9 122.8,204.9 124.4,206.8C126,208.7 128.3,210.2 129.8,212.1C131.3,214 132,216 133.1,218C134.2,220 135.2,221.9 136.4,223.9C137.6,225.9 138.7,227.9 140.1,229.9C141.5,231.9 143.2,233.8 144.6,235.9C146,238 147.6,240.4 148.8,242.6C150,244.8 151.1,247 151.8,249.3C152.5,251.6 152.6,254.9 152.8,256.6C153,258.3 153.1,259.1 153.2,259.6L189,259.6L189,176.7L106.2,176.7Z" fill="#13fce4"/>
<path d="M111.1,182.1C111.4,182.5 112,183.4 112.8,184.6C113.6,185.8 114.8,187.5 116,189.2C117.2,190.8 118.9,192.6 120.3,194.5C121.7,196.4 123.3,198.4 124.6,200.4C125.9,202.4 126.8,204.4 128.1,206.3C129.4,208.2 131.1,210.2 132.4,212.1C133.7,214 134.8,216 136,218C137.2,220 138.2,221.9 139.4,223.9C140.6,225.9 141.7,227.9 143.1,229.9C144.5,231.9 146.2,233.8 147.6,235.9C149,238 150.5,240.4 151.7,242.6C152.8,244.8 153.9,247 154.5,249.3C155.1,251.6 155,254.9 155.2,256.6C155.4,258.3 155.4,259.1 155.5,259.6L189,259.6L189,176.7L111.1,176.7Z" fill="#7aff7d"/>
<path d="M121.7,181.8C121.9,182.3 122.3,183.3 122.9,184.6C123.5,185.9 124.3,187.9 125.1,189.7C125.9,191.4 126.8,193.4 127.7,195.1C128.6,196.8 129.6,198.3 130.5,199.9C131.3,201.5 132,203 132.9,204.7C133.9,206.4 135.1,208.4 136.1,210C137.1,211.6 138,213.1 138.8,214.5C139.6,215.9 140.1,216.9 140.9,218.5C141.8,220.1 142.7,222 143.9,223.9C145.1,225.8 146.5,227.9 147.9,229.9C149.3,231.9 150.8,233.8 152.1,235.9C153.4,238 154.5,240.4 155.5,242.6C156.5,244.8 157.6,247 158.1,249.3C158.6,251.6 158.6,254.9 158.7,256.6C158.8,258.3 158.9,259.1 158.9,259.6L189,259.6L189,176.7L121.7,176.7Z" fill="#e1ff16"/>
<path d="M127.7,181.7C127.8,182.1 128,183.3 128.3,184.6C128.6,185.9 128.9,187.9 129.3,189.7C129.7,191.4 130.2,193.5 130.9,195.1C131.6,196.7 132.9,197.9 133.8,199.3C134.7,200.7 135.3,202 136.3,203.6C137.3,205.2 138.8,207.2 139.8,208.9C140.8,210.6 141.6,211.9 142.3,213.5C143,215.1 143.2,216.8 144,218.5C144.8,220.2 146.1,222 147.3,223.9C148.5,225.8 150,227.9 151.3,229.9C152.7,231.9 154.2,233.8 155.4,235.9C156.6,238 157.8,240.4 158.8,242.6C159.8,244.8 161,247 161.5,249.3C162,251.6 161.8,254.9 161.9,256.6C162,258.3 162,259.1 162.1,259.6L189,259.6L189,176.7L127.7,176.7Z" fill="#ff9800"/>
<path d="M166.9,192C165.9,191.8 163,191.5 160.9,191.3C158.8,191.1 156.8,190.6 154.5,190.6C152.2,190.6 149,190.9 147.1,191.3C145.2,191.7 143.9,192.2 142.8,192.9C141.7,193.6 141,194.5 140.6,195.6C140.2,196.7 140.4,197.8 140.6,199.3C140.8,200.8 141.4,203.2 141.9,204.7C142.4,206.1 143.2,206.9 143.8,208C144.4,209.1 145.2,210.3 145.6,211.5C146,212.7 146,213.6 146.5,215.1C147,216.6 147.5,218.6 148.6,220.3C149.7,222 151.5,223.8 152.9,225.4C154.3,227 155.8,228.1 157.1,229.7C158.4,231.3 159.6,233.1 160.6,234.8C161.6,236.5 162.5,238.2 163.1,239.9C163.7,241.6 164,243.2 164.4,245C164.8,246.8 165.2,248.6 165.5,250.5C165.8,252.4 165.9,255.1 166,256.6C166.1,258.1 166.2,259.1 166.2,259.6L189,259.6L189,176.7L166.9,176.7Z" fill="#ff2200"/>
<path d="M172.3,200.4C171.4,200.3 169.2,200.1 167.3,199.9C165.4,199.7 162.9,199.2 160.9,199.3C158.9,199.4 157.1,199.7 155.6,200.4C154.1,201.1 152.8,202.3 151.9,203.6C151,204.9 150.7,206.6 150.4,208C150.1,209.4 150.3,210.8 150.3,212C150.3,213.2 150.3,214.3 150.5,215.5C150.7,216.7 150.7,218 151.6,219.4C152.5,220.8 154.3,222.2 155.9,223.7C157.5,225.2 159.5,226.8 161,228.4C162.5,230 163.7,231.5 164.8,233.1C165.9,234.7 166.8,236.2 167.4,238.2C168.1,240.2 168.2,243 168.7,245C169.2,247 169.9,248.5 170.4,250C170.9,251.5 171.1,252.7 171.5,254C171.9,255.3 172.4,257.2 172.6,257.9L189,257.9L189,176.7L172.3,176.7Z" fill="#800000"/>
<path d="M75.9,181.4C76.1,181.6 76.6,182.5 77,183C77.4,183.5 77.1,183.7 78.1,184.6C79.1,185.5 80.9,187.6 82.9,188.7C85,189.8 87.8,190.3 90.4,190.9C93,191.5 96.3,191.8 98.5,192.2C100.7,192.6 102,192.9 103.5,193.5C105,194.1 106,194.5 107.5,195.6C109,196.7 111,198.2 112.8,199.8C114.6,201.4 116.4,203.4 118.1,205.2C119.8,207 121.5,208.7 122.9,210.5C124.3,212.3 125.5,214 126.7,215.8C127.9,217.6 129,219.4 129.9,221.2C130.8,223 131.4,224.7 132.3,226.5C133.2,228.3 134.2,230.1 135.1,231.8C136,233.5 136.8,234.9 137.9,236.9C139.1,238.9 140.7,241.5 142,243.6C143.3,245.7 144.9,247.5 145.9,249.6C146.9,251.7 147.4,254.7 147.8,256.1C148.2,257.5 148.3,257.7 148.4,258" fill="none" stroke="#000" stroke-width="1.1"/>
<path d="M110.9,183.3C111,183.5 111.3,183.9 112,184.9C112.7,185.9 114,187.8 115.2,189.5C116.5,191.2 118.1,192.9 119.5,194.8C120.9,196.7 122.5,198.7 123.8,200.7C125.1,202.7 126,204.7 127.3,206.6C128.6,208.6 130.3,210.5 131.6,212.4C132.9,214.3 134,216.3 135.2,218.3C136.4,220.3 137.4,222.2 138.6,224.2C139.8,226.2 140.9,228.2 142.3,230.2C143.7,232.2 145.4,234.1 146.8,236.2C148.2,238.3 149.7,240.7 150.9,242.9C152,245.1 153.1,247.3 153.7,249.6C154.3,251.9 154.3,255.4 154.4,256.9C154.5,258.4 154.6,258.6 154.6,258.9" fill="none" stroke="#000" stroke-width="1.1"/>
<path d="M124.5,182.7C124.6,183 124.7,183.4 125.1,184.6C125.5,185.8 126.1,187.9 126.7,189.7C127.3,191.4 127.9,193.5 128.8,195.1C129.7,196.7 131.2,197.8 132.2,199.3C133.1,200.8 133.7,202.4 134.6,204.1C135.6,205.8 136.7,207.6 137.7,209.4C138.7,211.2 139.7,213.2 140.4,214.8C141.2,216.4 141.4,217.5 142.2,219C143,220.5 144.2,222.1 145.4,223.9C146.6,225.7 148,227.9 149.4,229.9C150.8,231.9 152.3,233.8 153.6,235.9C154.9,238 156,240.4 157,242.6C158,244.8 159.1,247 159.6,249.3C160.1,251.6 160.1,255.1 160.2,256.6C160.3,258.1 160.3,258.3 160.4,258.6" fill="none" stroke="#000" stroke-width="1.1"/>
<path d="M163.7,191.8C163.4,191.8 163.1,191.8 161.7,191.6C160.3,191.4 157.6,190.9 155.3,190.9C153,190.9 149.8,191.2 147.9,191.6C146,192 144.7,192.5 143.6,193.2C142.5,193.9 141.8,194.8 141.4,195.9C141,197 141.2,198.1 141.4,199.6C141.6,201.1 142.2,203.6 142.7,205C143.2,206.4 144,207.2 144.6,208.3C145.2,209.4 146,210.6 146.4,211.8C146.8,213 146.8,213.9 147.3,215.4C147.8,216.9 148.3,218.9 149.4,220.6C150.5,222.3 152.3,224.1 153.7,225.7C155.1,227.3 156.6,228.4 157.9,230C159.2,231.6 160.4,233.4 161.4,235.1C162.4,236.8 163.3,238.5 163.9,240.2C164.5,241.9 164.8,243.5 165.2,245.3C165.6,247.1 166,248.9 166.3,250.8C166.6,252.7 166.7,255.6 166.8,256.9C166.9,258.2 166.9,258.6 167,258.9" fill="none" stroke="#000" stroke-width="1.1"/>
</g>
</g>
<g><circle cx="69.3" cy="184.7" r="1.38"/><circle cx="73.3" cy="184.7" r="1.38"/><circle cx="77.6" cy="184.7" r="1.38"/><circle cx="90.7" cy="184.7" r="1.38"/><circle cx="96.8" cy="184.7" r="1.38"/><circle cx="100.8" cy="184.7" r="1.38"/><circle cx="105.1" cy="184.7" r="1.38"/><circle cx="118.2" cy="184.7" r="1.38"/><circle cx="124.3" cy="184.7" r="1.38"/><circle cx="77.6" cy="195.5" r="1.38"/><circle cx="90.7" cy="195.5" r="1.38"/><circle cx="96.8" cy="195.5" r="1.38"/><circle cx="100.8" cy="195.5" r="1.38"/><circle cx="105.1" cy="195.5" r="1.38"/><circle cx="118.2" cy="195.5" r="1.38"/><circle cx="124.3" cy="195.5" r="1.38"/><circle cx="128.3" cy="195.5" r="1.38"/><circle cx="132.6" cy="195.5" r="1.38"/><circle cx="105.1" cy="220.6" r="1.38"/><circle cx="118.2" cy="220.6" r="1.38"/><circle cx="124.3" cy="220.6" r="1.38"/><circle cx="128.3" cy="220.6" r="1.38"/><circle cx="132.6" cy="220.6" r="1.38"/><circle cx="145.7" cy="220.6" r="1.38"/><circle cx="151.8" cy="220.6" r="1.38"/><circle cx="155.8" cy="220.6" r="1.38"/><circle cx="160.1" cy="220.6" r="1.38"/><circle cx="124.3" cy="256.3" r="1.38"/><circle cx="128.3" cy="256.3" r="1.38"/><circle cx="132.6" cy="256.3" r="1.38"/><circle cx="145.7" cy="256.3" r="1.38"/><circle cx="151.8" cy="256.3" r="1.38"/><circle cx="155.8" cy="256.3" r="1.38"/><circle cx="160.1" cy="256.3" r="1.38"/><circle cx="173.2" cy="256.3" r="1.38"/></g>
<g mask="url(#cp11)">
<rect x="179" y="176.7" width="132" height="87.6" fill="#007dff"/>
<g transform="translate(0,0)">
<path d="M224,219.2C224.5,219.3 225.8,219.4 227,219.6C228.2,219.8 230,219.8 231.5,220.2C233,220.6 234.8,221.4 236,222.2C237.2,223 237.8,224.2 238.5,224.8C239.2,225.4 239.7,225.5 240.5,225.6C241.3,225.7 242.1,224.9 243.3,225.3C244.6,225.7 246.4,226.5 248,227.8C249.6,229.1 251.3,231.4 252.6,233C253.9,234.6 254.6,235.9 255.6,237.3C256.6,238.7 257.6,240.2 258.5,241.6C259.4,243 260.3,244.4 261.1,246C261.9,247.6 262.6,249.2 263.2,251C263.8,252.8 264.1,255.2 264.4,256.6C264.7,258 264.9,259 265,259.5L265,264.3L179,264.3L179,219.2Z" fill="#0000ff"/>
<path d="M243.1,248.1C243.6,247.9 244.9,247.5 246,247.2C247.1,246.9 248.5,245.8 249.7,246.1C250.9,246.4 252.4,247.7 253.4,248.8C254.4,250 255.1,251.7 255.6,253C256.1,254.3 255.9,255.5 256.1,256.6C256.3,257.7 256.4,259.1 256.5,259.6L256.5,264.3L179,264.3L179,248.1Z" fill="#000080"/>
<path d="M199.2,181.9C199.3,182.3 199.8,183.7 200.1,184.7C200.4,185.7 200.5,186.8 201.1,187.7C201.7,188.6 202.7,189.5 203.7,190.3C204.7,191.1 205.8,191.8 207.1,192.4C208.4,193 210,193.6 211.4,194.1C212.8,194.6 214.2,194.9 215.6,195.4C217,195.9 218.5,196.5 219.9,197.1C221.3,197.7 222.8,198.5 224.2,199C225.5,199.5 226.8,199.9 228,200.3C229.2,200.7 230.2,200.7 231.4,201.2C232.6,201.7 234,202.5 235.3,203.5C236.6,204.5 237.9,205.7 239.1,207C240.3,208.3 241.4,209.9 242.5,211.4C243.6,212.9 244.6,214.3 245.6,215.8C246.6,217.3 247.5,218.9 248.5,220.3C249.5,221.7 250.3,223 251.5,224.2C252.7,225.4 254.4,226.2 255.6,227.4C256.8,228.6 257.5,229.9 258.5,231.2C259.5,232.5 260.6,233.7 261.5,235.1C262.4,236.5 263.3,238 264.1,239.4C264.9,240.8 265.6,242.2 266.2,243.6C266.8,245 267.4,246.3 267.8,247.9C268.2,249.5 268.6,251.6 268.8,253C269.1,254.4 269.1,255.5 269.3,256.6C269.5,257.7 269.6,259.1 269.7,259.6L311,259.6L311,176.7L199.2,176.7Z" fill="#13fce4"/>
<path d="M201.5,182.3C201.9,182.7 203,183.7 203.7,184.4C204.4,185.1 205,185.7 205.8,186.4C206.7,187.1 207.7,187.9 208.8,188.4C209.9,188.9 210.9,189.2 212.2,189.6C213.5,190 215.1,190.4 216.5,190.7C217.9,191 219.4,191.2 220.8,191.5C222.2,191.8 223.7,192.2 225,192.6C226.3,193 227.4,193.5 228.5,193.9C229.6,194.3 230.2,194.6 231.4,195.2C232.6,195.8 234.3,196.6 235.7,197.7C237.1,198.8 238.8,200.2 240,201.6C241.2,202.9 242.2,204.4 243.2,205.8C244.2,207.2 245.2,208.6 246.2,210C247.2,211.4 248.1,213 249,214.4C249.9,215.8 250.6,217.1 251.6,218.3C252.6,219.5 253.7,220.5 254.8,221.8C255.9,223.1 257,224.6 258,225.9C259,227.2 260,228.4 261,229.7C262,231 263.1,232.2 264,233.6C264.9,235 265.8,236.5 266.6,237.9C267.4,239.3 268,240.7 268.6,242.1C269.2,243.5 269.6,245 270,246.4C270.4,247.8 270.8,249 271.1,250.7C271.4,252.4 271.6,255.1 271.8,256.6C272,258.1 272.1,259.1 272.2,259.6L311,259.6L311,176.7L201.5,176.7Z" fill="#7aff7d"/>
<path d="M229.3,181.9C229.6,182.4 230.3,183.4 231,184.4C231.7,185.4 232.6,186.8 233.6,188.1C234.6,189.4 235.9,191 237,192.4C238.1,193.8 239.3,195.1 240.4,196.4C241.5,197.7 242.5,198.8 243.6,200C244.7,201.2 245.9,202.5 247,203.8C248.1,205.1 249.3,206.5 250.3,207.8C251.3,209.2 252.2,210.6 253,211.9C253.8,213.2 254.3,214.4 255.1,215.6C255.9,216.8 256.8,218.3 257.6,219.3C258.4,220.3 258.9,220.4 259.8,221.4C260.7,222.4 261.7,224 262.8,225.3C263.9,226.6 265.1,227.8 266.2,229.1C267.3,230.4 268.3,231.7 269.2,233C270.1,234.3 270.8,235.8 271.4,237.2C272,238.6 272.5,240.1 272.9,241.5C273.3,242.9 273.6,244.4 273.9,245.8C274.2,247.2 274.6,248.3 274.8,250.1C275,251.9 275.1,255 275.2,256.6C275.3,258.2 275.4,259.1 275.4,259.6L311,259.6L311,176.7L229.3,176.7Z" fill="#e1ff16"/>
<path d="M236.9,181.7C237.2,182.2 237.7,183.3 238.3,184.4C238.9,185.5 239.6,187.2 240.4,188.5C241.2,189.8 242,191.1 243,192.4C244,193.7 245.3,195 246.4,196.2C247.5,197.4 248.8,198.6 249.8,199.7C250.8,200.8 251.7,201.8 252.6,203C253.5,204.2 254.6,205.3 255.4,206.6C256.2,207.8 257,209.1 257.7,210.5C258.4,211.9 258.9,213.4 259.5,214.8C260.1,216.2 260.8,217.7 261.6,218.8C262.4,219.9 263.2,220.4 264.1,221.4C265,222.4 266,223.7 267.1,224.8C268.2,226 269.5,227.1 270.5,228.3C271.5,229.5 272.4,230.8 273.2,232.1C274,233.4 274.9,235 275.5,236.4C276.1,237.8 276.5,239.2 276.9,240.6C277.3,242 277.7,243.5 278,244.9C278.3,246.3 278.7,247.2 278.9,249.2C279.1,251.1 279.3,254.9 279.4,256.6C279.5,258.3 279.6,259.1 279.6,259.6L311,259.6L311,176.7L236.9,176.7Z" fill="#ff9800"/>
<path d="M245.3,181.5C245.5,182 245.8,183.2 246.1,184.4C246.4,185.6 246.7,187.2 247.2,188.5C247.7,189.8 248.2,191 248.9,192C249.6,193 250.3,193.6 251.3,194.6C252.3,195.6 253.6,196.9 254.7,198.2C255.8,199.4 257,200.8 258,202.1C259,203.4 259.9,204.9 260.7,206.3C261.5,207.7 262.2,209.1 262.8,210.6C263.4,212.1 263.9,214 264.5,215.3C265.1,216.6 265.9,217.6 266.5,218.6C267.1,219.6 267.1,220.4 267.9,221.4C268.7,222.4 270.2,223.3 271.4,224.4C272.5,225.5 273.8,226.6 274.8,227.8C275.8,229 276.6,230.3 277.4,231.7C278.2,233 278.9,234.5 279.5,235.9C280.1,237.3 280.5,238.8 280.9,240.2C281.3,241.6 281.8,243.1 282.1,244.5C282.4,245.9 282.7,246.8 282.9,248.8C283.1,250.8 283.4,254.8 283.5,256.6C283.6,258.4 283.7,259.1 283.7,259.6L311,259.6L311,176.7L245.3,176.7Z" fill="#ff2200"/>
<path d="M282.8,188.6C281.8,188.6 279,188.5 276.8,188.4C274.6,188.3 271.7,188 269.3,188.1C266.9,188.2 264.1,188.7 262.5,189.2C260.9,189.7 260,190.3 259.4,191.1C258.8,191.8 258.6,192.7 258.8,193.7C259.1,194.7 260.1,195.9 260.9,197.1C261.7,198.3 262.8,199.5 263.5,200.8C264.2,202.1 264.8,203.7 265.4,205.1C265.9,206.5 266.3,207.9 266.8,209.4C267.3,210.9 267.5,212.6 268.2,213.9C268.9,215.2 270.1,216.5 271.2,217.4C272.3,218.3 273.6,218.9 274.8,219.6C276,220.3 277.1,220.9 278.2,221.6C279.3,222.3 280.3,222.9 281.2,224C282.1,225.1 283,226.8 283.8,228.3C284.6,229.8 285.3,231.4 285.9,233C286.5,234.6 287,236.1 287.4,237.7C287.8,239.3 288.2,241.1 288.5,242.8C288.8,244.5 289.1,245.6 289.3,247.9C289.5,250.2 289.8,254.7 289.9,256.6C290,258.5 290.1,259.1 290.1,259.6L311,259.6L311,176.7L282.8,176.7Z" fill="#800000"/>
<path d="M237.2,230.9C237.5,230.8 238.4,230.3 239,230C239.6,229.7 239.7,229.2 240.7,229.1C241.7,228.9 243.4,228.6 244.9,229.1C246.4,229.6 248.2,230.8 249.5,232C250.8,233.2 251.7,234.9 252.6,236.2C253.5,237.5 254.2,238.7 255.1,240C255.9,241.3 256.9,242.7 257.7,244C258.5,245.3 259.2,246.7 259.8,248C260.4,249.3 261,250.6 261.5,252C262,253.4 262.3,255.5 262.6,256.6C262.9,257.7 263,258.2 263.1,258.5" fill="none" stroke="#000" stroke-width="1.1"/>
<path d="M201.5,183.3C201.7,183.6 202.3,184.1 202.9,184.7C203.5,185.3 204.2,186 205,186.7C205.8,187.4 206.9,188.2 208,188.7C209.1,189.2 210.1,189.5 211.4,189.9C212.7,190.3 214.3,190.7 215.7,191C217.1,191.3 218.6,191.5 220,191.8C221.4,192.1 222.9,192.5 224.2,192.9C225.5,193.3 226.6,193.8 227.7,194.2C228.8,194.6 229.4,194.9 230.6,195.5C231.8,196.1 233.5,196.9 234.9,198C236.3,199.1 237.9,200.6 239.2,201.9C240.4,203.2 241.4,204.7 242.4,206.1C243.4,207.5 244.4,208.9 245.4,210.3C246.4,211.7 247.3,213.3 248.2,214.7C249.1,216.1 249.8,217.4 250.8,218.6C251.8,219.8 252.9,220.8 254,222.1C255.1,223.4 256.2,224.9 257.2,226.2C258.2,227.5 259.2,228.7 260.2,230C261.2,231.3 262.3,232.5 263.2,233.9C264.1,235.3 265,236.8 265.8,238.2C266.6,239.6 267.2,241 267.8,242.4C268.4,243.8 268.8,245.3 269.2,246.7C269.6,248.1 270,249.3 270.3,251C270.6,252.7 270.8,255.6 271,256.9C271.2,258.2 271.2,258.6 271.2,258.9" fill="none" stroke="#000" stroke-width="1.1"/>
<path d="M231,182.8C231.3,183.1 231.6,183.5 232.3,184.4C233,185.3 234.2,186.8 235.3,188.1C236.4,189.4 237.6,191.1 238.7,192.4C239.8,193.8 241,194.9 242.1,196.2C243.2,197.5 244.4,198.8 245.5,200.1C246.6,201.4 247.8,202.6 248.9,203.9C250,205.2 251,206.5 251.9,207.8C252.8,209.1 253.8,210.4 254.5,211.6C255.2,212.8 255.7,213.7 256.4,214.8C257,215.9 257.5,217.1 258.4,218.2C259.2,219.3 260.5,220.3 261.5,221.4C262.5,222.5 263.4,223.6 264.5,224.8C265.6,226 266.8,227.4 267.9,228.7C269,230 270,231.2 270.9,232.5C271.8,233.8 272.5,235.4 273.1,236.8C273.7,238.2 274.2,239.7 274.6,241.1C275,242.5 275.3,244 275.6,245.4C275.9,246.8 276.3,247.7 276.5,249.6C276.7,251.5 276.9,255.1 277,256.6C277.1,258.1 277.1,258.3 277.1,258.6" fill="none" stroke="#000" stroke-width="1.1"/>
<path d="M246.4,182.8C246.5,183.1 246.6,183.7 246.9,184.7C247.2,185.7 247.5,187.5 248,188.8C248.5,190.1 249,191.3 249.7,192.3C250.4,193.3 251.1,193.9 252.1,194.9C253.1,195.9 254.4,197.2 255.5,198.5C256.6,199.8 257.8,201.1 258.8,202.4C259.8,203.8 260.7,205.2 261.5,206.6C262.3,208 263,209.4 263.6,210.9C264.2,212.4 264.7,214.3 265.3,215.6C265.9,216.9 266.7,217.9 267.3,218.9C267.9,219.9 267.9,220.7 268.7,221.7C269.5,222.7 271,223.6 272.2,224.7C273.4,225.8 274.6,226.9 275.6,228.1C276.6,229.3 277.4,230.7 278.2,232C279,233.3 279.7,234.8 280.3,236.2C280.9,237.6 281.3,239.1 281.7,240.5C282.1,241.9 282.6,243.4 282.9,244.8C283.2,246.2 283.5,247.1 283.7,249.1C283.9,251.1 284.2,255.3 284.3,256.9C284.4,258.5 284.4,258.6 284.5,258.9" fill="none" stroke="#000" stroke-width="1.1"/>
</g>
</g>
<g><circle cx="191.1" cy="184.7" r="1.38"/><circle cx="195.1" cy="184.7" r="1.38"/><circle cx="199.4" cy="184.7" r="1.38"/><circle cx="212.5" cy="184.7" r="1.38"/><circle cx="218.6" cy="184.7" r="1.38"/><circle cx="222.6" cy="184.7" r="1.38"/><circle cx="226.9" cy="184.7" r="1.38"/><circle cx="240" cy="184.7" r="1.38"/><circle cx="246.1" cy="184.7" r="1.38"/><circle cx="199.4" cy="195.5" r="1.38"/><circle cx="212.5" cy="195.5" r="1.38"/><circle cx="218.6" cy="195.5" r="1.38"/><circle cx="222.6" cy="195.5" r="1.38"/><circle cx="226.9" cy="195.5" r="1.38"/><circle cx="240" cy="195.5" r="1.38"/><circle cx="246.1" cy="195.5" r="1.38"/><circle cx="250.1" cy="195.5" r="1.38"/><circle cx="254.4" cy="195.5" r="1.38"/><circle cx="226.9" cy="220.6" r="1.38"/><circle cx="240" cy="220.6" r="1.38"/><circle cx="246.1" cy="220.6" r="1.38"/><circle cx="250.1" cy="220.6" r="1.38"/><circle cx="254.4" cy="220.6" r="1.38"/><circle cx="267.5" cy="220.6" r="1.38"/><circle cx="273.6" cy="220.6" r="1.38"/><circle cx="277.6" cy="220.6" r="1.38"/><circle cx="281.9" cy="220.6" r="1.38"/><circle cx="246.1" cy="256.3" r="1.38"/><circle cx="250.1" cy="256.3" r="1.38"/><circle cx="254.4" cy="256.3" r="1.38"/><circle cx="267.5" cy="256.3" r="1.38"/><circle cx="273.6" cy="256.3" r="1.38"/><circle cx="277.6" cy="256.3" r="1.38"/><circle cx="281.9" cy="256.3" r="1.38"/><circle cx="295" cy="256.3" r="1.38"/></g>
<g mask="url(#cp12)">
<rect x="301" y="176.7" width="126.2" height="87.6" fill="#7aff7d"/>
<g transform="translate(0.0,0)">
<path d="M314.9,182.2C315,182.5 315.4,183.2 315.7,184C316,184.8 316.6,185.9 317,187C317.4,188.1 317.7,189.4 318,190.5C318.3,191.6 318.7,192.9 318.8,193.4L301,193.4L301,176.7L314.9,176.7Z" fill="#13fce4"/>
<path d="M359.7,232.8C360.2,232.8 361.1,232.7 362.7,232.6C364.3,232.5 367,231.7 369.1,232.1C371.2,232.5 373.1,233.7 375.1,235.1C377.1,236.5 379.2,238.6 380.9,240.7C382.6,242.8 384.1,245.2 385.1,247.8C386.1,250.5 386.6,254.6 387,256.6C387.4,258.6 387.5,259 387.6,259.5L387.6,264.3L301,264.3L301,232.8Z" fill="#13fce4"/>
<path d="M362.8,246.2C363.3,246.1 364.6,245.8 365.7,245.6C366.8,245.4 368.2,244.6 369.4,244.8C370.6,245.1 372,246.1 373.1,247.1C374.2,248.1 375.4,249.2 376.1,250.8C376.9,252.4 377.2,255.1 377.6,256.6C378,258.1 378.2,259 378.4,259.5L378.4,264.3L301,264.3L301,246.2Z" fill="#007dff"/>
<path d="M318.7,182.7C318.9,183.1 319,183.5 319.5,184.6C320,185.7 320.9,187.8 321.5,189.5C322.1,191.2 322.4,193.4 323.2,194.5C323.9,195.6 324.7,195.6 326,196C327.3,196.4 329.3,196.5 331,197.2C332.7,197.9 334.6,198.8 336,200C337.4,201.2 338.5,202.9 339.5,204.5C340.5,206.1 341.4,207.8 342,209.5C342.6,211.2 343,213.2 343.3,215C343.6,216.8 342.5,219.2 343.6,220.3C344.7,221.4 347.5,221.2 349.8,221.5C352.1,221.8 354.7,221.8 357.2,222.2C359.7,222.5 362.4,223 364.7,223.6C366.9,224.2 368.7,224.9 370.7,225.7C372.7,226.5 374.6,227.1 376.9,228.4C379.2,229.7 382.2,231.6 384.3,233.6C386.4,235.6 388.2,238 389.6,240.4C391,242.8 391.8,245.1 392.5,247.8C393.2,250.5 393.4,254.6 393.6,256.6C393.8,258.6 393.9,259.1 394,259.6L427.2,259.6L427.2,176.7L318.7,176.7Z" fill="#e1ff16"/>
<path d="M322.5,182.3C322.8,182.7 323.3,183.3 324.4,184.6C325.5,185.9 327.1,188 328.9,189.9C330.6,191.8 332.9,194 334.9,195.9C336.9,197.8 338.9,199.9 340.8,201.3C342.7,202.8 344.5,203.6 346,204.6C347.5,205.6 348.1,206.5 350,207.3C351.9,208.1 355,208.5 357.5,209.2C360,209.8 362.7,210.4 364.9,211.2C367.1,212 369,213 370.9,214.2C372.8,215.4 374.5,217 376.1,218.3C377.7,219.7 379,221.1 380.6,222.3C382.2,223.5 384.1,224.4 385.8,225.6C387.5,226.8 389.2,227.6 390.6,229.3C392,231 393.4,234 394.3,235.9C395.2,237.8 395.8,238.7 396.2,241C396.6,243.3 396.8,247.4 396.9,250C397,252.6 397.1,255 397.1,256.6C397.1,258.2 397.2,259.1 397.2,259.6L427.2,259.6L427.2,176.7L322.5,176.7Z" fill="#ff9800"/>
<path d="M326.6,182.7C327,183 327.8,183.6 328.9,184.6C330,185.6 331.7,187.1 333.4,188.4C335.1,189.7 337.1,191.1 339.3,192.2C341.5,193.3 344.3,194.3 346.8,195.1C349.3,195.9 351.8,196.5 354.3,197.2C356.8,197.8 359.5,198.2 361.7,199C363.9,199.8 365.9,200.8 367.7,201.9C369.4,203 370.9,204.2 372.2,205.4C373.5,206.6 374.4,207.3 375.4,208.8C376.4,210.3 377.2,212.9 378.2,214.5C379.2,216.1 380.2,217.3 381.5,218.5C382.8,219.7 384.1,220.4 385.8,221.4C387.6,222.4 390.1,223.1 392,224.6C393.9,226.1 395.9,228.3 397.3,230.2C398.7,232.1 399.8,234.2 400.5,236C401.2,237.8 401.4,239 401.7,241C402,243 402,245.4 402.1,248C402.2,250.6 402.3,254.7 402.3,256.6C402.3,258.5 402.4,259.1 402.4,259.6L427.2,259.6L427.2,176.7L326.6,176.7Z" fill="#ff2200"/>
<path d="M362.7,181.9C363,182.4 363.5,183.3 364.1,184.6C364.7,185.9 365.5,187.8 366.6,189.5C367.7,191.2 369.1,193 370.8,194.8C372.5,196.6 375.1,198.4 376.9,200.4C378.6,202.4 380,204.9 381.3,207.1C382.6,209.3 383.6,211.8 384.8,213.5C386,215.2 387.1,216.3 388.5,217.5C389.9,218.7 391.6,219.5 393.5,220.7C395.4,221.9 397.9,223.1 399.6,224.7C401.3,226.2 402.6,228.1 403.6,230C404.6,231.9 405.1,234.2 405.5,236C405.9,237.8 406,238.7 406.2,241C406.4,243.3 406.5,247.4 406.6,250C406.7,252.6 406.8,255 406.8,256.6C406.8,258.2 406.9,259.1 406.9,259.6L427.2,259.6L427.2,176.7L362.7,176.7Z" fill="#800000"/>
<path d="M361.4,236.2C361.8,236.1 362.2,236.1 363.4,235.9C364.6,235.7 366.9,234.8 368.7,235.1C370.4,235.4 372.2,236.4 373.9,237.7C375.6,239 377.6,241.1 379.1,243C380.6,244.9 381.9,247 382.8,249.3C383.7,251.6 384.2,255.1 384.6,256.6C385,258.1 385,258.2 385.1,258.5" fill="none" stroke="#000" stroke-width="1.1"/>
<path d="M321.9,182.7C322,183 322.1,183.2 322.6,184.6C323.1,186 323.8,189.3 325.1,191.4C326.4,193.5 328.5,195.3 330.4,197.4C332.3,199.5 334.6,201.7 336.3,204.1C338,206.5 339.4,209.2 340.8,211.6C342.2,214 343.4,216.9 344.6,218.3C345.9,219.7 346.7,219.5 348.3,219.8C349.9,220.1 352.5,220 354.3,220.1C356.1,220.2 356.7,220.2 359,220.5C361.3,220.8 364.8,220.9 367.9,221.7C371,222.5 374.6,223.9 377.6,225.4C380.6,226.9 383.6,228.7 385.8,230.7C388,232.7 389.6,235.1 391,237.4C392.4,239.8 393.3,241.6 394,244.8C394.7,248 395,254.3 395.2,256.6C395.4,258.9 395.4,258.3 395.4,258.6" fill="none" stroke="#000" stroke-width="1.1"/>
<path d="M328,182.7C328.2,182.9 328.5,183.2 329.5,184C330.5,184.8 332.3,186.5 334,187.8C335.7,189.1 337.7,190.5 339.9,191.6C342.1,192.7 344.9,193.7 347.4,194.5C349.9,195.3 352.4,195.9 354.9,196.6C357.4,197.2 360.1,197.6 362.3,198.4C364.5,199.2 366.6,200.2 368.3,201.3C370.1,202.4 371.5,203.7 372.8,204.8C374.1,206 375,206.7 376,208.2C377,209.7 377.8,212.3 378.8,213.9C379.8,215.5 380.8,216.8 382.1,217.9C383.4,219.1 384.7,219.8 386.4,220.8C388.2,221.8 390.7,222.5 392.6,224C394.5,225.5 396.5,227.7 397.9,229.6C399.3,231.5 400.4,233.6 401.1,235.4C401.8,237.2 402,238.4 402.3,240.4C402.6,242.4 402.6,244.8 402.7,247.4C402.8,250 402.9,254.2 402.9,256C402.9,257.8 402.9,257.7 402.9,258" fill="none" stroke="#000" stroke-width="1.1"/>
</g>
</g>
<g><circle cx="313.6" cy="184.7" r="1.38"/><circle cx="317.9" cy="184.7" r="1.38"/><circle cx="322.5" cy="184.7" r="1.38"/><circle cx="336.6" cy="184.7" r="1.38"/><circle cx="343.2" cy="184.7" r="1.38"/><circle cx="347.5" cy="184.7" r="1.38"/><circle cx="352.1" cy="184.7" r="1.38"/><circle cx="366.2" cy="184.7" r="1.38"/><circle cx="372.8" cy="184.7" r="1.38"/><circle cx="322.5" cy="195.5" r="1.38"/><circle cx="336.6" cy="195.5" r="1.38"/><circle cx="343.2" cy="195.5" r="1.38"/><circle cx="347.5" cy="195.5" r="1.38"/><circle cx="352.1" cy="195.5" r="1.38"/><circle cx="366.2" cy="195.5" r="1.38"/><circle cx="372.8" cy="195.5" r="1.38"/><circle cx="377.1" cy="195.5" r="1.38"/><circle cx="381.7" cy="195.5" r="1.38"/><circle cx="343.2" cy="220.6" r="1.38"/><circle cx="347.5" cy="220.6" r="1.38"/><circle cx="352.1" cy="220.6" r="1.38"/><circle cx="366.2" cy="220.6" r="1.38"/><circle cx="372.8" cy="220.6" r="1.38"/><circle cx="377.1" cy="220.6" r="1.38"/><circle cx="381.7" cy="220.6" r="1.38"/><circle cx="395.8" cy="220.6" r="1.38"/><circle cx="402.4" cy="220.6" r="1.38"/><circle cx="366.2" cy="256.3" r="1.38"/><circle cx="372.8" cy="256.3" r="1.38"/><circle cx="377.1" cy="256.3" r="1.38"/><circle cx="381.7" cy="256.3" r="1.38"/><circle cx="395.8" cy="256.3" r="1.38"/><circle cx="402.4" cy="256.3" r="1.38"/><circle cx="406.7" cy="256.3" r="1.38"/><circle cx="411.3" cy="256.3" r="1.38"/></g>
<g mask="url(#cp20)">
<rect x="57.3" y="298" width="131.7" height="87.6" fill="#e1ff16"/>
<g transform="translate(0.0,0)">
<path d="M69.1,312.3C69.6,312.2 71.2,311.7 72,311.5C72.8,311.3 72.6,311.2 73.8,311C74.9,310.9 76.9,310.7 79,310.6C81.1,310.6 83.7,310.8 86.5,310.8C89.3,310.7 93.3,310.1 96.1,310.3C98.9,310.4 101,310.9 103.4,311.7C105.8,312.4 108,313.6 110.4,314.6C112.8,315.6 115.4,316.6 117.9,317.8C120.4,319.1 123,320.7 125.3,322.1C127.6,323.5 129.5,324.6 131.7,326.4C133.9,328.2 136.8,331 138.6,333.1C140.4,335.2 141.3,337 142.3,338.8C143.3,340.6 143.4,342 144.4,343.7C145.4,345.3 147.1,346.7 148.4,348.8C149.7,350.9 150.8,353.6 151.9,356C153,358.4 154.3,360.9 155.2,363.4C156.1,365.9 156.9,368.4 157.4,370.8C157.9,373.2 157.9,376.2 158.1,377.9C158.3,379.6 158.3,380.4 158.4,380.9L158.1,390L60,390L60,310.8Z" fill="#ff9800"/>
<path d="M94.1,325.4C94.6,325.3 96.2,324.8 97,324.6C97.8,324.4 97.9,324.4 99.1,324C100.2,323.6 102,322.6 103.9,322.4C105.8,322.2 108.2,322.4 110.3,322.9C112.4,323.4 114.6,324.4 116.7,325.6C118.8,326.9 121,328.7 123,330.4C125,332.1 126.6,333.8 128.4,335.7C130.2,337.6 132,339.4 133.9,341.5C135.8,343.6 138.2,346 139.9,348.4C141.6,350.8 143.1,353.4 144.3,355.9C145.5,358.4 146.6,360.9 147.3,363.4C148.1,365.9 148.5,368.4 148.8,370.8C149.1,373.2 149,376.2 149.1,377.9C149.2,379.6 149.2,380.4 149.2,380.9L149.1,390L60,390L60,324.6Z" fill="#ff2200"/>
<path d="M122.9,369.8C123.1,369.3 123.6,368.3 124.2,367.1C124.8,365.9 125.5,363.5 126.4,362.6C127.3,361.7 128.4,361.5 129.4,361.9C130.4,362.3 131.5,363.4 132.4,364.9C133.3,366.4 134.4,368.6 135.1,370.8C135.8,373 136.2,376.2 136.6,377.9C137,379.6 137.1,380.3 137.2,380.8L137.2,385.6L57.3,385.6L57.3,369.8Z" fill="#800000"/>
<path d="M103.2,304.8C103.7,305 104.4,305.3 106,305.9C107.6,306.5 110.5,307.5 112.9,308.5C115.3,309.5 117.9,310.5 120.4,311.7C122.9,312.9 125.5,314.6 127.8,315.8C130.1,317 132.1,317.8 134,318.8C135.9,319.8 137.4,320.7 139,321.7C140.6,322.7 142.2,323.7 143.5,325C144.8,326.3 146,327.9 147,329.5C148,331.1 148.8,333.1 149.6,334.8C150.4,336.5 150.9,338.2 151.6,339.9C152.3,341.6 153,343.2 153.9,345.1C154.8,347 155.9,349.1 156.8,351.1C157.7,353.1 158.6,354.9 159.3,357C160,359.1 160.4,361.1 161,363.4C161.6,365.7 162.2,368.4 162.6,370.8C163,373.2 163.1,376.2 163.2,377.9C163.3,379.6 163.4,380.4 163.5,380.9L189,380.9L189,298L103.2,298Z" fill="#7aff7d"/>
<path d="M120.4,304.9C120.8,305.1 121.4,305.3 123.2,305.9C125,306.5 128.6,307.7 131.4,308.7C134.2,309.7 137.6,310.4 140.3,311.7C143,312.9 145.7,314.3 147.8,316.2C149.9,318.1 151.7,320.7 153,322.9C154.3,325.1 154.9,327.4 155.6,329.6C156.3,331.8 156.6,334.1 157.3,336C158,337.9 158.7,339.2 159.7,341C160.7,342.8 162.2,344.6 163.3,346.5C164.4,348.4 165.3,350.2 166.2,352.5C167.1,354.8 168.1,357.4 168.8,360C169.5,362.6 170.1,365 170.5,368C170.9,371 171.3,375.8 171.5,377.9C171.7,380 171.8,380.4 171.8,380.9L189,380.9L189,298L120.4,298Z" fill="#13fce4"/>
<path d="M139.5,308.3C140,308.4 141,308.7 142.4,309.1C143.8,309.5 146.1,309.9 147.9,310.6C149.7,311.3 151.6,312.2 153.3,313.3C155,314.4 156.5,315.6 157.9,317C159.3,318.4 160.4,319.9 161.5,321.6C162.6,323.3 163.5,325.3 164.3,327.1C165.1,328.9 165.5,330.5 166.1,332.5C166.7,334.5 167.3,336.8 167.9,338.9C168.5,341 169.1,343.2 169.7,345.2C170.3,347.2 170.9,349.3 171.3,350.7C171.7,352.1 172,353.1 172.1,353.6L189,353.6L189,298L139.5,298Z" fill="#007dff"/>
<path d="M98.1,327.6C98.3,327.4 99.2,326.5 99.5,326.2C99.8,325.9 99.2,325.9 100.1,325.6C101,325.3 103,324.4 104.9,324.3C106.8,324.2 109.2,324.4 111.3,325.1C113.4,325.8 115.6,327 117.7,328.3C119.8,329.6 122.2,331.3 124.1,333C126,334.7 127.5,336.8 128.9,338.4C130.4,340 131.2,340.7 132.8,342.5C134.4,344.3 136.7,347.1 138.4,349.4C140.1,351.7 141.6,354.1 142.8,356.4C144,358.7 145.1,361 145.8,363.4C146.6,365.8 147,368.4 147.3,370.8C147.6,373.2 147.5,376.4 147.6,377.9C147.7,379.4 147.7,379.6 147.7,379.9" fill="none" stroke="#000" stroke-width="1.1"/>
<path d="M99.9,305.1C100.2,305.2 100.1,305.2 101.7,305.9C103.3,306.6 106.7,308 109.2,309.1C111.7,310.2 114.2,311.2 116.7,312.3C119.2,313.4 121.9,314.8 124.1,316C126.3,317.2 128.2,318.3 130,319.3C131.8,320.3 133.4,321 135.1,322C136.8,323 138.7,324.1 140.3,325.4C141.9,326.7 143.3,328.1 144.5,329.7C145.7,331.3 146.6,333.1 147.5,334.8C148.4,336.5 148.9,338.2 149.7,339.9C150.5,341.6 151.3,343.2 152.2,345.1C153.1,347 154.3,349.1 155.2,351.1C156.1,353.1 156.9,354.9 157.8,357C158.7,359.1 159.8,361.7 160.5,364C161.2,366.3 161.4,368.5 161.7,370.8C162,373.1 162.1,376.4 162.2,377.9C162.3,379.4 162.3,379.6 162.3,379.9" fill="none" stroke="#000" stroke-width="1.1"/>
<path d="M122.3,305.5C122.6,305.6 122.5,305.5 124.2,306.1C125.9,306.7 129.6,307.9 132.4,308.9C135.2,309.9 138.6,310.6 141.3,311.9C144,313.1 146.7,314.5 148.8,316.4C150.9,318.3 152.7,320.9 154,323.1C155.3,325.3 155.9,327.6 156.6,329.8C157.3,332 157.6,334.3 158.3,336.2C159,338.1 159.7,339.4 160.7,341.2C161.7,342.9 163.2,344.8 164.3,346.7C165.4,348.6 166.3,350.4 167.2,352.7C168.1,354.9 169.1,357.6 169.8,360.2C170.5,362.8 171.1,365.2 171.5,368.2C171.9,371.2 172.3,376.1 172.5,378.1C172.7,380.1 172.7,379.8 172.7,380.1" fill="none" stroke="#000" stroke-width="1.1"/>
</g>
</g>
<g><circle cx="69.3" cy="306" r="1.38"/><circle cx="73.3" cy="306" r="1.38"/><circle cx="77.6" cy="306" r="1.38"/><circle cx="90.7" cy="306" r="1.38"/><circle cx="96.8" cy="306" r="1.38"/><circle cx="100.8" cy="306" r="1.38"/><circle cx="105.1" cy="306" r="1.38"/><circle cx="118.2" cy="306" r="1.38"/><circle cx="124.3" cy="306" r="1.38"/><circle cx="77.6" cy="316.8" r="1.38"/><circle cx="90.7" cy="316.8" r="1.38"/><circle cx="96.8" cy="316.8" r="1.38"/><circle cx="100.8" cy="316.8" r="1.38"/><circle cx="105.1" cy="316.8" r="1.38"/><circle cx="118.2" cy="316.8" r="1.38"/><circle cx="124.3" cy="316.8" r="1.38"/><circle cx="128.3" cy="316.8" r="1.38"/><circle cx="132.6" cy="316.8" r="1.38"/><circle cx="105.1" cy="341.9" r="1.38"/><circle cx="118.2" cy="341.9" r="1.38"/><circle cx="124.3" cy="341.9" r="1.38"/><circle cx="128.3" cy="341.9" r="1.38"/><circle cx="132.6" cy="341.9" r="1.38"/><circle cx="145.7" cy="341.9" r="1.38"/><circle cx="151.8" cy="341.9" r="1.38"/><circle cx="155.8" cy="341.9" r="1.38"/><circle cx="160.1" cy="341.9" r="1.38"/><circle cx="124.3" cy="377.6" r="1.38"/><circle cx="128.3" cy="377.6" r="1.38"/><circle cx="132.6" cy="377.6" r="1.38"/><circle cx="145.7" cy="377.6" r="1.38"/><circle cx="151.8" cy="377.6" r="1.38"/><circle cx="155.8" cy="377.6" r="1.38"/><circle cx="160.1" cy="377.6" r="1.38"/><circle cx="173.2" cy="377.6" r="1.38"/></g>
<g mask="url(#cp21)">
<rect x="179" y="298" width="132" height="87.6" fill="#7aff7d"/>
<g transform="translate(0.0,0)">
<path d="M194.2,304.5C194.7,304.8 195.2,305 196.9,305.9C198.6,306.8 201.9,308.8 204.4,309.7C206.9,310.6 209.1,310.9 211.9,311.2C214.7,311.5 218,311.3 221.1,311.5C224.2,311.7 227.4,312 230.6,312.5C233.7,312.9 237,313.7 240,314.3C242.9,314.9 245.8,315.1 248.5,316C251.2,316.8 253.6,317.8 256,319.2C258.4,320.6 260.8,322.5 262.7,324.4C264.6,326.3 265.9,328.3 267.2,330.4C268.5,332.5 269.5,335 270.6,337.1C271.7,339.2 272.7,341.2 273.9,343.3C275.1,345.4 276.5,347.9 277.6,350C278.7,352.1 279.7,354 280.6,356C281.5,357.9 282.3,359.6 282.9,361.9C283.5,364.2 283.8,367.3 284,369.6C284.2,371.9 284.2,374.4 284.3,376C284.4,377.5 284.4,378.4 284.4,378.9L282.7,390L180,390L180,305.9Z" fill="#e1ff16"/>
<path d="M196,315.7C196.5,315.6 198.2,315.3 199,315.2C199.8,315.1 199.3,315.1 200.7,314.9C202.1,314.7 204.8,314.2 207.4,314.2C210,314.1 213.3,314.2 216.3,314.6C219.3,315 222.3,315.6 225.3,316.4C228.3,317.2 231.8,318.6 234.2,319.4C236.6,320.2 237.9,320.3 240,321C242.1,321.7 244.5,322.4 246.9,323.6C249.3,324.8 252.2,326.5 254.4,328.3C256.6,330.1 258.8,332.2 260.4,334.3C262,336.4 262.9,338.9 264.1,341C265.3,343.1 266.3,345 267.5,347C268.7,349 270,351.2 271.1,353C272.2,354.8 273.3,356.3 274.2,358C275.1,359.7 275.9,361.3 276.5,363.4C277.1,365.5 277.2,368.4 277.5,370.8C277.8,373.2 277.9,376.2 278,377.9C278.1,379.6 278.2,380.4 278.2,380.9L278,390L180,390L180,315.2Z" fill="#ff9800"/>
<path d="M219.6,331.6C220,331.5 221.7,331.2 222.5,331C223.3,330.8 223.3,330.7 224.5,330.6C225.7,330.5 227.7,330.2 229.8,330.6C231.9,331 234.8,331.7 237.2,332.8C239.5,333.9 241.8,335.5 243.9,337C246,338.5 248,340.3 249.9,342C251.8,343.7 253.5,345.4 255.1,347.2C256.7,348.9 258.2,350.6 259.6,352.5C261,354.4 262.2,356.4 263.3,358.5C264.4,360.6 265.4,362.6 266,364.9C266.6,367.2 266.9,370.1 267.1,372.3C267.4,374.5 267.4,376.5 267.5,377.9C267.6,379.3 267.7,380.4 267.7,380.9L267.5,390L180,390L180,331Z" fill="#ff2200"/>
<path d="M227.3,305.5C227.8,305.5 228.4,305.6 230.3,305.9C232.2,306.2 236,306.8 238.7,307.1C241.3,307.4 243.8,307.3 246.2,307.6C248.6,307.9 250.7,308 253.4,308.7C256.1,309.4 259.7,310.4 262.3,311.7C264.9,312.9 267.2,314.4 269.1,316.2C271,317.9 272.3,320.1 273.5,322.2C274.7,324.3 275.6,326.7 276.5,328.9C277.4,331.1 277.9,333.5 278.8,335.6C279.7,337.7 280.6,339.3 281.7,341.3C282.8,343.3 284.4,345.5 285.5,347.7C286.6,349.9 287.6,352 288.5,354.4C289.4,356.8 290.1,359.4 290.7,361.9C291.3,364.4 291.6,366.6 291.9,369.3C292.2,372 292.4,376 292.5,377.9C292.6,379.8 292.7,380.4 292.7,380.9L311,380.9L311,298L227.3,298Z" fill="#13fce4"/>
<path d="M274.2,307.3C274.6,307.7 275.9,308.8 276.5,309.3C277.1,309.8 277.1,309.6 277.9,310.5C278.7,311.4 280.2,312.9 281.1,314.5C282,316.1 282.7,318 283.4,320C284.1,322 284.7,324.3 285.2,326.4C285.7,328.5 286.1,330.6 286.5,332.7C286.9,334.8 287.3,337 287.9,339.1C288.5,341.2 289.5,343.8 290.2,345.5C290.9,347.2 291.4,348.2 292,349.5C292.6,350.8 293.4,352.4 294,353.5C294.6,354.6 295.1,355.7 295.3,356.2L311,356.2L311,298L274.2,298Z" fill="#007dff"/>
<path d="M236.5,350.8C236.8,350.6 237.4,350 238,349.5C238.6,349 238.9,348.3 240,347.7C241.1,347.1 243,345.7 244.7,345.6C246.4,345.5 248.6,346.4 250.3,347.3C252.1,348.2 253.6,349.4 255.2,351.2C256.8,353 258.7,355.5 260,358C261.3,360.5 262.4,363.5 263.1,366C263.9,368.5 264.2,371.1 264.5,373.1C264.8,375.1 265,376.8 265.1,377.9C265.2,379 265.3,379.6 265.3,379.9" fill="none" stroke="#000" stroke-width="1.1"/>
<path d="M194.6,304.4C194.9,304.5 194.9,304.5 196.4,305.3C197.9,306.1 201.4,308.2 203.9,309.1C206.4,310 208.7,310.2 211.4,310.6C214.1,311 217.3,310.9 220.3,311.3C223.3,311.7 226.3,312.1 229.3,312.8C232.3,313.4 235.3,314.5 238.2,315.2C241,315.9 243.8,316.4 246.4,317.3C249,318.1 251.5,319.1 253.9,320.5C256.3,321.9 258.7,323.8 260.6,325.7C262.5,327.6 263.8,329.6 265.1,331.7C266.4,333.8 267.4,336.2 268.5,338.4C269.6,340.5 270.6,342.5 271.8,344.6C273,346.7 274.4,349.2 275.5,351.3C276.6,353.4 277.6,355.3 278.5,357.2C279.4,359.2 280.2,360.9 280.8,363.2C281.4,365.5 281.7,368.6 281.9,370.9C282.1,373.2 282.1,375.9 282.2,377.3C282.3,378.6 282.3,378.9 282.3,379.2" fill="none" stroke="#000" stroke-width="1.1"/>
<path d="M245.2,307.5C245.6,307.5 245.7,307.6 247.2,307.8C248.7,308 251.7,308.2 254.4,308.9C257.1,309.6 260.7,310.6 263.3,311.9C265.9,313.1 268.2,314.6 270.1,316.4C272,318.1 273.3,320.3 274.5,322.4C275.7,324.5 276.6,326.9 277.5,329.1C278.4,331.3 278.9,333.7 279.8,335.8C280.7,337.9 281.6,339.5 282.7,341.5C283.8,343.5 285.4,345.7 286.5,347.9C287.6,350.1 288.6,352.2 289.5,354.6C290.4,357 291.1,359.6 291.7,362.1C292.3,364.6 292.6,366.8 292.9,369.5C293.2,372.2 293.4,376.3 293.5,378.1C293.6,379.9 293.6,379.8 293.6,380.1" fill="none" stroke="#000" stroke-width="1.1"/>
<path d="M227.6,339.5C227.7,338.9 228.3,338.1 229,337.7C229.7,337.3 230.7,337.1 231.5,337.3C232.3,337.5 233.3,338.1 233.6,338.6C233.9,339.2 233.7,340.1 233.2,340.6C232.7,341.1 231.3,341.4 230.5,341.5C229.7,341.6 228.7,341.3 228.2,341C227.7,340.7 227.5,340.1 227.6,339.5Z" fill="none" stroke="#000" stroke-width="1.1"/>
</g>
</g>
<g><circle cx="191.1" cy="306" r="1.38"/><circle cx="195.1" cy="306" r="1.38"/><circle cx="199.4" cy="306" r="1.38"/><circle cx="212.5" cy="306" r="1.38"/><circle cx="218.6" cy="306" r="1.38"/><circle cx="222.6" cy="306" r="1.38"/><circle cx="226.9" cy="306" r="1.38"/><circle cx="240" cy="306" r="1.38"/><circle cx="246.1" cy="306" r="1.38"/><circle cx="199.4" cy="316.8" r="1.38"/><circle cx="212.5" cy="316.8" r="1.38"/><circle cx="218.6" cy="316.8" r="1.38"/><circle cx="222.6" cy="316.8" r="1.38"/><circle cx="226.9" cy="316.8" r="1.38"/><circle cx="240" cy="316.8" r="1.38"/><circle cx="246.1" cy="316.8" r="1.38"/><circle cx="250.1" cy="316.8" r="1.38"/><circle cx="254.4" cy="316.8" r="1.38"/><circle cx="226.9" cy="341.9" r="1.38"/><circle cx="240" cy="341.9" r="1.38"/><circle cx="246.1" cy="341.9" r="1.38"/><circle cx="250.1" cy="341.9" r="1.38"/><circle cx="254.4" cy="341.9" r="1.38"/><circle cx="267.5" cy="341.9" r="1.38"/><circle cx="273.6" cy="341.9" r="1.38"/><circle cx="277.6" cy="341.9" r="1.38"/><circle cx="281.9" cy="341.9" r="1.38"/><circle cx="246.1" cy="377.6" r="1.38"/><circle cx="250.1" cy="377.6" r="1.38"/><circle cx="254.4" cy="377.6" r="1.38"/><circle cx="267.5" cy="377.6" r="1.38"/><circle cx="273.6" cy="377.6" r="1.38"/><circle cx="277.6" cy="377.6" r="1.38"/><circle cx="281.9" cy="377.6" r="1.38"/><circle cx="295" cy="377.6" r="1.38"/></g>
<g mask="url(#cp22)">
<rect x="301" y="298" width="126.2" height="87.6" fill="#e1ff16"/>
<g transform="translate(0.0,0)">
<path d="M319.5,316.9C320,316.9 321.7,316.7 322.5,316.6C323.3,316.5 323.1,316.3 324.4,316.4C325.7,316.5 328.2,316.6 330.4,317.1C332.6,317.6 335.1,318.4 337.8,319.4C340.5,320.4 343.8,322.1 346.8,323.1C349.8,324.1 352.7,324.7 355.7,325.4C358.7,326.1 362.1,326.3 364.9,327.2C367.7,328.1 370,329.3 372.4,330.6C374.8,331.9 377.1,333.5 379.1,335.1C381.1,336.8 382.8,338.6 384.5,340.5C386.2,342.4 388.1,344.6 389.6,346.5C391.1,348.4 392.1,350.1 393.3,352C394.5,353.9 395.8,355.9 397,358C398.2,360.1 399.7,362.5 400.7,364.8C401.7,367.1 402.5,369.4 403,371.6C403.5,373.8 403.5,376.4 403.7,377.9C403.9,379.4 404,380.4 404,380.9L403.7,390L300,390L300,316.6Z" fill="#ff9800"/>
<path d="M317.2,304.6C317.7,304.8 318.5,305.2 319.9,305.9C321.3,306.6 323.6,308.1 325.9,308.9C328.1,309.7 330.7,310.1 333.4,310.7C336.1,311.3 339.3,312.1 342.3,312.7C345.3,313.3 348.5,313.9 351.3,314.4C354.1,314.9 356.2,315.1 359,315.7C361.8,316.3 364.9,316.9 367.9,317.9C370.9,318.9 374.2,320.2 376.9,321.6C379.6,323 382.1,324.5 384.3,326.1C386.5,327.7 388.6,329.7 390.3,331.3C392.1,332.9 393.1,334.7 394.8,335.8C396.5,336.9 398.8,337.9 400.7,338C402.6,338.1 404.7,337.5 406,336.6C407.3,335.7 407.7,334.2 408.5,332.8C409.3,331.4 410.4,329.2 411,328C411.6,326.8 412.2,325.8 412.4,325.3L427.2,325.3L427.2,298L317.2,298Z" fill="#7aff7d"/>
<path d="M362,305.6C362.4,305.6 363.3,305.8 364,305.9C364.7,306 364.8,305.9 366.4,306.3C368,306.7 371.2,307.5 373.9,308.2C376.6,308.9 379.8,309.8 382.8,310.4C385.8,311 389.1,311.5 391.8,311.9C394.6,312.3 397.6,312.4 399.3,312.7C401,313 401.1,313.2 402,313.5C402.9,313.8 404.4,314.2 404.9,314.4L427.2,314.4L427.2,298L362,298Z" fill="#13fce4"/>
<path d="M315.8,308.1C316.1,308.2 316.3,308.2 317.7,308.6C319.1,309 322,309.8 324.4,310.4C326.8,310.9 329.2,311.3 331.9,311.9C334.6,312.5 337.8,313.5 340.8,314.2C343.8,314.9 346.8,315.4 349.8,315.9C352.8,316.4 356,316.5 359,317.1C362,317.7 365,318.4 367.9,319.4C370.8,320.4 373.5,321.6 376.1,323.1C378.7,324.6 381.4,326.4 383.6,328.3C385.9,330.2 387.9,332.3 389.6,334.3C391.3,336.3 392.6,338.6 394,340.3C395.4,342.1 396.4,343.7 397.8,344.8C399.2,345.9 400.6,346.8 402.2,347C403.8,347.2 406.1,346.7 407.5,346.3C408.9,345.9 409.9,345.2 410.8,344.8C411.7,344.4 412.3,344.1 412.6,344" fill="none" stroke="#000" stroke-width="1.1"/>
<path d="M378.4,306.7C378.8,306.7 380,306.8 381,306.9C382,307 383.8,307.2 384.3,307.3" fill="none" stroke="#000" stroke-width="1.1"/>
</g>
</g>
<g><circle cx="313.6" cy="306" r="1.38"/><circle cx="317.9" cy="306" r="1.38"/><circle cx="322.5" cy="306" r="1.38"/><circle cx="336.6" cy="306" r="1.38"/><circle cx="343.2" cy="306" r="1.38"/><circle cx="347.5" cy="306" r="1.38"/><circle cx="352.1" cy="306" r="1.38"/><circle cx="366.2" cy="306" r="1.38"/><circle cx="372.8" cy="306" r="1.38"/><circle cx="322.5" cy="316.8" r="1.38"/><circle cx="336.6" cy="316.8" r="1.38"/><circle cx="343.2" cy="316.8" r="1.38"/><circle cx="347.5" cy="316.8" r="1.38"/><circle cx="352.1" cy="316.8" r="1.38"/><circle cx="366.2" cy="316.8" r="1.38"/><circle cx="372.8" cy="316.8" r="1.38"/><circle cx="377.1" cy="316.8" r="1.38"/><circle cx="381.7" cy="316.8" r="1.38"/><circle cx="343.2" cy="341.9" r="1.38"/><circle cx="347.5" cy="341.9" r="1.38"/><circle cx="352.1" cy="341.9" r="1.38"/><circle cx="366.2" cy="341.9" r="1.38"/><circle cx="372.8" cy="341.9" r="1.38"/><circle cx="377.1" cy="341.9" r="1.38"/><circle cx="381.7" cy="341.9" r="1.38"/><circle cx="395.8" cy="341.9" r="1.38"/><circle cx="402.4" cy="341.9" r="1.38"/><circle cx="366.2" cy="377.6" r="1.38"/><circle cx="372.8" cy="377.6" r="1.38"/><circle cx="377.1" cy="377.6" r="1.38"/><circle cx="381.7" cy="377.6" r="1.38"/><circle cx="395.8" cy="377.6" r="1.38"/><circle cx="402.4" cy="377.6" r="1.38"/><circle cx="406.7" cy="377.6" r="1.38"/><circle cx="411.3" cy="377.6" r="1.38"/></g>
<g mask="url(#cp30)">
<rect x="57.3" y="419.3" width="131.7" height="87.6" fill="#800000"/>
<g transform="translate(0.0,0)">
<path d="M93.8,425.1C94.1,425.5 94.8,426.1 95.9,427.2C97,428.3 98.7,429.9 100.3,431.5C101.9,433.1 103.8,435 105.5,436.6C107.2,438.2 109,439.6 110.6,441.1C112.2,442.6 113.5,443.9 115,445.6C116.5,447.3 117.8,449.3 119.3,451.2C120.8,453.1 122.5,455 124,456.9C125.5,458.8 127,460.5 128.3,462.6C129.6,464.8 130.5,467.4 131.6,469.8C132.7,472.2 133.9,474.8 135,476.8C136.1,478.8 137.3,480.3 138.4,482C139.5,483.7 140.7,485.4 141.8,487.1C143,488.8 144.3,490.6 145.3,492.2C146.3,493.8 147.2,495.3 147.8,496.5C148.5,497.7 148.7,498.3 149.2,499.2C149.7,500.1 150.4,501.4 150.6,501.9L189,501.9L189,419.3L93.8,419.3Z" fill="#ff2200"/>
<path d="M115.1,424.4C115.3,424.9 115.5,425.6 116,427.3C116.5,429 117.1,432 118.2,434.4C119.3,436.8 121.1,439.4 122.7,441.9C124.3,444.4 126.3,446.9 127.9,449.3C129.5,451.7 131.1,454.1 132.4,456.4C133.7,458.7 134.7,460.8 135.7,463C136.8,465.2 137.4,467.1 138.8,469.4C140.2,471.7 142.6,474.4 144.4,476.9C146.2,479.4 147.9,481.9 149.4,484.4C150.9,486.9 152.5,489.3 153.3,491.8C154.1,494.3 154.2,497.5 154.5,499.2C154.8,500.9 154.9,501.7 155,502.2L189,502.2L189,419.3L115.1,419.3Z" fill="#ff9800"/>
<path d="M124.9,424.3C124.9,424.8 124.9,425.9 124.9,427.3C124.9,428.7 124.4,430.7 124.9,432.9C125.4,435.1 126.5,437.9 127.9,440.4C129.3,442.9 131.5,445.4 133.1,447.9C134.7,450.4 136.3,452.9 137.6,455.3C138.9,457.7 139.8,460 140.9,462.4C142,464.8 142.7,467 144.4,469.4C146.1,471.8 149.2,474.4 151.1,476.9C153,479.4 154.4,481.9 155.7,484.4C157,486.9 158.3,489.3 159,491.8C159.7,494.3 159.5,497.5 159.7,499.2C159.9,500.9 159.9,501.7 160,502.2L189,502.2L189,419.3L124.9,419.3Z" fill="#e1ff16"/>
<path d="M133.5,424.5C133.3,425 133,425.9 132.4,427.3C131.8,428.7 130.1,430.8 130.1,432.9C130.1,434.9 131.2,437.4 132.4,439.6C133.7,441.9 136,444.1 137.6,446.4C139.2,448.6 140.8,450.9 142.1,453.1C143.4,455.3 144.3,457.5 145.2,459.5C146,461.5 146.1,463.2 147,465C147.9,466.8 149.2,468 150.6,470C152,472 154.1,474.5 155.6,476.9C157.1,479.3 158.5,481.9 159.8,484.4C161.1,486.9 162.6,489.3 163.3,491.8C164,494.3 163.8,497.5 164,499.2C164.2,500.9 164.2,501.7 164.3,502.2L189,502.2L189,419.3L133.5,419.3Z" fill="#7aff7d"/>
<path d="M169.3,433.8C167.6,433.7 162.2,433.2 159.3,432.9C156.4,432.6 154.3,432.1 151.8,432.2C149.3,432.3 146.4,432.8 144.3,433.7C142.2,434.6 140,435.8 139.1,437.4C138.2,439 138.6,441.3 139.1,443.4C139.6,445.5 141,447.9 142.1,450.1C143.2,452.3 144.6,454.3 145.8,456.4C147,458.4 147.8,460.4 149.1,462.4C150.4,464.4 151.9,466 153.6,468.2C155.3,470.4 157.6,472.9 159.3,475.4C161,477.8 162.4,480.4 163.8,482.9C165.2,485.4 166.8,487.6 167.5,490.3C168.2,493 168,497.2 168.2,499.2C168.4,501.2 168.4,501.7 168.4,502.2L189,502.2L189,419.3L169.3,419.3Z" fill="#13fce4"/>
<path d="M168.7,432.2C167.3,432.3 163.5,432.6 160.7,432.9C157.9,433.2 154.2,433.2 151.8,433.7C149.4,434.2 147.8,434.9 146.5,436C145.2,437.1 144.2,438.6 143.8,440.4C143.5,442.2 143.9,444.6 144.4,447C144.9,449.4 145.7,452.3 146.6,454.6C147.5,456.9 148.7,459.2 149.8,461C151,462.8 152.2,464.2 153.6,465.5C155.1,466.8 156.9,467 158.6,468.5C160.3,470 162.3,472.4 163.8,474.7C165.3,477 166.6,479.6 167.8,482.1C168.9,484.6 170.2,486.8 170.8,489.6C171.5,492.5 171.4,497.1 171.5,499.2C171.6,501.3 171.7,501.7 171.7,502.2L189,502.2L189,419.3L168.7,419.3Z" fill="#007dff"/>
<path d="M157.8,446.4C158.8,445.4 160.6,444.8 162.2,444.9C163.8,445 166.1,445.6 167.5,447.1C168.9,448.6 169.8,451.4 170.4,453.8C171,456.2 171.4,459.2 171.2,461.3C171,463.4 170.2,465.5 169,466.5C167.8,467.5 165.4,467.8 163.7,467.3C161.9,466.8 159.8,465.2 158.5,463.5C157.2,461.8 156.4,458.9 156,456.8C155.6,454.7 155.7,452.5 156,450.8C156.3,449.1 156.8,447.4 157.8,446.4Z" fill="#0000ff"/>
<path d="M115.4,425.4C115.5,425.7 115.5,425.8 116,427.3C116.5,428.8 117.1,432 118.2,434.4C119.3,436.8 121.1,439.4 122.7,441.9C124.3,444.4 126.3,446.9 127.9,449.3C129.5,451.7 131.1,454.1 132.4,456.4C133.7,458.7 134.7,460.8 135.7,463C136.8,465.2 137.4,467.1 138.8,469.4C140.2,471.7 142.6,474.4 144.4,476.9C146.2,479.4 147.9,481.9 149.4,484.4C150.9,486.9 152.5,489.3 153.3,491.8C154.1,494.3 154.2,497.6 154.5,499.2C154.8,500.8 154.8,500.8 154.8,501.2" fill="none" stroke="#000" stroke-width="1.1"/>
<path d="M128.9,425.3C128.8,425.6 128.8,426 128.7,427.3C128.6,428.6 127.8,430.7 128.2,432.9C128.6,435.1 129.6,438 130.9,440.4C132.2,442.8 134.5,444.9 136.1,447.1C137.7,449.3 139.4,451.7 140.6,453.8C141.8,455.9 142.6,457.9 143.5,460C144.4,462.1 145.2,464.8 146.2,466.5C147.2,468.2 148.2,468.8 149.4,470.5C150.6,472.2 151.9,474.6 153.4,476.9C154.9,479.2 156.8,481.9 158.1,484.4C159.5,486.9 160.8,489.3 161.5,491.8C162.2,494.3 162.1,497.6 162.2,499.2C162.3,500.8 162.4,500.9 162.4,501.2" fill="none" stroke="#000" stroke-width="1.1"/>
<path d="M162.7,432.7C162.4,432.8 162.5,432.7 160.7,432.9C158.9,433.1 154.2,433.2 151.8,433.7C149.4,434.2 147.8,434.9 146.5,436C145.2,437.1 144.2,438.6 143.8,440.4C143.5,442.2 143.9,444.6 144.4,447C144.9,449.4 145.7,452.3 146.6,454.6C147.5,456.9 148.7,459.2 149.8,461C151,462.8 152.2,464.2 153.6,465.5C155.1,466.8 156.9,467 158.6,468.5C160.3,470 162.3,472.4 163.8,474.7C165.3,477 166.6,479.6 167.8,482.1C168.9,484.6 170.2,486.8 170.8,489.6C171.5,492.5 171.4,497.3 171.5,499.2C171.6,501.1 171.6,500.9 171.6,501.2" fill="none" stroke="#000" stroke-width="1.1"/>
<path d="M157.8,446.4C158.8,445.4 160.6,444.8 162.2,444.9C163.8,445 166.1,445.6 167.5,447.1C168.9,448.6 169.8,451.4 170.4,453.8C171,456.2 171.4,459.2 171.2,461.3C171,463.4 170.2,465.5 169,466.5C167.8,467.5 165.4,467.8 163.7,467.3C161.9,466.8 159.8,465.2 158.5,463.5C157.2,461.8 156.4,458.9 156,456.8C155.6,454.7 155.7,452.5 156,450.8C156.3,449.1 156.8,447.4 157.8,446.4Z" fill="none" stroke="#000" stroke-width="1.1"/>
</g>
</g>
<g><circle cx="69.3" cy="427.3" r="1.38"/><circle cx="73.3" cy="427.3" r="1.38"/><circle cx="77.6" cy="427.3" r="1.38"/><circle cx="90.7" cy="427.3" r="1.38"/><circle cx="96.8" cy="427.3" r="1.38"/><circle cx="100.8" cy="427.3" r="1.38"/><circle cx="105.1" cy="427.3" r="1.38"/><circle cx="118.2" cy="427.3" r="1.38"/><circle cx="124.3" cy="427.3" r="1.38"/><circle cx="77.6" cy="438.1" r="1.38"/><circle cx="90.7" cy="438.1" r="1.38"/><circle cx="96.8" cy="438.1" r="1.38"/><circle cx="100.8" cy="438.1" r="1.38"/><circle cx="105.1" cy="438.1" r="1.38"/><circle cx="118.2" cy="438.1" r="1.38"/><circle cx="124.3" cy="438.1" r="1.38"/><circle cx="128.3" cy="438.1" r="1.38"/><circle cx="132.6" cy="438.1" r="1.38"/><circle cx="105.1" cy="463.1" r="1.38"/><circle cx="118.2" cy="463.1" r="1.38"/><circle cx="124.3" cy="463.1" r="1.38"/><circle cx="128.3" cy="463.1" r="1.38"/><circle cx="132.6" cy="463.1" r="1.38"/><circle cx="145.7" cy="463.1" r="1.38"/><circle cx="151.8" cy="463.1" r="1.38"/><circle cx="155.8" cy="463.1" r="1.38"/><circle cx="160.1" cy="463.1" r="1.38"/><circle cx="124.3" cy="498.9" r="1.38"/><circle cx="128.3" cy="498.9" r="1.38"/><circle cx="132.6" cy="498.9" r="1.38"/><circle cx="145.7" cy="498.9" r="1.38"/><circle cx="151.8" cy="498.9" r="1.38"/><circle cx="155.8" cy="498.9" r="1.38"/><circle cx="160.1" cy="498.9" r="1.38"/><circle cx="173.2" cy="498.9" r="1.38"/></g>
<g mask="url(#cp31)">
<rect x="179" y="419.3" width="132" height="87.6" fill="#ff2200"/>
<g transform="translate(0.0,0)">
<path d="M234,466.3C234.5,466.4 236.1,466.7 237,466.8C237.9,466.9 238.1,466.8 239.5,467.2C240.9,467.6 243.5,468 245.4,469.4C247.3,470.8 249.1,473.4 250.7,475.4C252.3,477.4 253.4,479.6 255.1,481.4C256.8,483.1 259.4,484.3 261.1,485.9C262.9,487.5 264.5,488.9 265.6,491.1C266.7,493.3 267.3,497.4 267.8,499.2C268.3,501 268.5,501.6 268.6,502.1L268.6,506.9L179,506.9L179,466.3Z" fill="#800000"/>
<path d="M213.7,425.8C214.1,426.1 214.9,426.5 216.3,427.3C217.7,428.1 220.3,429.6 222.3,430.7C224.3,431.8 226.3,432.6 228.3,433.7C230.3,434.8 232.2,435.9 234.2,437.4C236.2,438.9 238.3,440.7 240.2,442.6C242.1,444.5 243.9,446.5 245.4,448.6C246.9,450.7 248,452.8 249.2,455C250.3,457.2 251.3,459.7 252.3,462C253.3,464.3 254.1,466.5 255.4,468.7C256.8,470.9 258.6,473.3 260.4,475.4C262.2,477.5 264.6,479.3 266.3,481.4C268,483.5 269.7,485.9 270.8,488.1C271.9,490.3 272.5,493 273,494.8C273.5,496.6 273.6,498 273.8,499.2C274,500.4 274.2,501.7 274.3,502.2L311,502.2L311,419.3L213.7,419.3Z" fill="#ff9800"/>
<path d="M236.4,424.4C236.6,424.9 236.8,425.9 237.2,427.3C237.6,428.7 237.8,430.7 238.7,432.9C239.6,435.1 240.9,437.9 242.4,440.4C243.9,442.9 246.1,445.5 247.7,447.9C249.3,450.3 250.9,452.4 252.1,454.6C253.3,456.8 253.8,459.2 255.1,461.3C256.4,463.4 258.1,465.6 259.6,467.3C261.1,469 262.4,470.1 264.1,471.5C265.9,472.9 268.2,474 270.1,475.5C272,477 273.8,478.6 275.3,480.6C276.8,482.6 278.1,485.1 279,487.3C279.9,489.6 280.2,492.1 280.5,494.1C280.8,496.1 280.9,497.9 281,499.2C281.1,500.5 281.2,501.7 281.3,502.2L311,502.2L311,419.3L236.4,419.3Z" fill="#e1ff16"/>
<path d="M241,424.4C241.2,424.9 241.4,425.9 241.8,427.3C242.2,428.7 242.5,430.8 243.3,432.9C244,434.9 244.9,437.2 246.3,439.6C247.7,442 249.9,444.7 251.5,447.1C253.1,449.5 254.8,451.6 256,453.8C257.2,456 257.9,458.5 259,460.5C260.1,462.5 261.2,464.1 262.7,465.8C264.2,467.5 265.9,468.9 267.9,470.5C269.9,472.1 272.7,473.6 274.6,475.4C276.5,477.2 277.8,479.3 279.1,481.4C280.4,483.5 281.8,485.9 282.6,488.1C283.4,490.3 283.7,493 284,494.8C284.3,496.6 284.2,498 284.3,499.2C284.4,500.4 284.5,501.7 284.5,502.2L311,502.2L311,419.3L241,419.3Z" fill="#7aff7d"/>
<path d="M252.6,424.7C252.4,425.1 251.8,426.2 251.1,427.3C250.4,428.4 248.9,429.7 248.7,431.4C248.5,433.1 249,435.7 249.9,437.4C250.8,439.1 252.7,440.4 254,441.7C255.3,443 256.5,443.8 257.5,445.2C258.5,446.6 259.3,448.4 260.2,450.1C261.1,451.8 262,453.6 262.8,455.3C263.6,457 264.2,458.7 264.9,460.4C265.6,462.1 266.1,464 267.1,465.5C268.1,467 269.5,468.3 270.9,469.4C272.2,470.5 273.8,471 275.2,471.9C276.6,472.8 278.2,473.7 279.5,474.9C280.8,476.1 281.9,477.9 282.9,479.2C283.9,480.5 284.8,481.4 285.6,482.6C286.4,483.8 287,484.5 287.6,486.3C288.2,488.1 288.7,491.2 289,493.3C289.3,495.4 289.4,497.7 289.5,499.2C289.6,500.7 289.7,501.7 289.8,502.2L311,502.2L311,419.3L252.6,419.3Z" fill="#13fce4"/>
<path d="M286.5,430.2C284.5,430.3 278.1,430.6 274.5,430.7C270.9,430.8 267.7,430.9 264.8,431.1C261.9,431.4 259.3,431.5 257.4,432.2C255.5,432.9 254.1,433.8 253.6,435.2C253.1,436.6 254,439.1 254.6,440.4C255.2,441.7 256.4,442.3 257.3,443.2C258.2,444.1 258.9,444.5 259.8,445.7C260.7,446.9 261.9,448.5 262.8,450.1C263.7,451.7 264.7,453.6 265.4,455.3C266.1,457 266.5,458.9 267.1,460.4C267.7,461.9 268.1,463.1 269.2,464.2C270.3,465.3 272.1,466.3 273.5,467.2C274.9,468.1 276.4,468.8 277.8,469.8C279.2,470.8 280.7,471.9 282,473.2C283.3,474.5 284.5,476.2 285.5,477.5C286.5,478.8 287.2,479.8 288,481C288.8,482.2 289.6,483 290.2,484.8C290.8,486.6 291.4,489.4 291.7,491.8C292,494.2 292,497.5 292.1,499.2C292.2,500.9 292.2,501.7 292.3,502.2L311,502.2L311,419.3L286.5,419.3Z" fill="#007dff"/>
<path d="M276.8,443.4C277.8,442.3 279.7,440.8 281.3,440.4C282.9,440 285,440.2 286.5,441.1C288,442 289.3,443.7 290.2,445.6C291.1,447.5 291.6,449.7 292,452.3C292.4,454.9 292.8,458.7 292.9,461.3C293,463.9 293,466.5 292.4,468C291.8,469.5 290.9,469.9 289.5,470.2C288.1,470.4 285.8,470.2 284.2,469.5C282.6,468.8 281,467.4 279.8,465.8C278.6,464.2 277.6,462.1 276.8,459.8C276.1,457.6 275.5,454.4 275.3,452.3C275.1,450.2 275.4,448.6 275.6,447.1C275.9,445.6 275.9,444.5 276.8,443.4Z" fill="#0000ff"/>
<path d="M283.8,457.6C283.8,457.3 284.4,456.8 284.6,456.8C284.9,456.8 285.3,457.3 285.3,457.6C285.3,457.9 284.9,458.6 284.6,458.6C284.4,458.6 283.8,457.9 283.8,457.6Z" fill="#000080"/>
<path d="M192.8,428.1C193.1,428.2 193.5,428.4 194.7,428.7C195.9,429 198,429.9 199.9,430.2C201.8,430.5 204.3,430.1 205.9,430.7C207.5,431.3 208.4,432.7 209.6,433.7C210.8,434.7 211.4,436.1 213.3,436.7C215.2,437.3 218.3,436.9 220.8,437.1C223.3,437.3 226.1,437.4 228.3,438.1C230.5,438.8 232.3,439.9 234.2,441.1C236.1,442.4 237.9,443.9 239.5,445.6C241.1,447.4 242.5,449.6 243.9,451.6C245.3,453.6 246.5,455.5 247.7,457.6C248.8,459.7 249.8,461.9 250.8,464C251.9,466.1 252.6,467.9 254,470C255.4,472.1 257.2,474.4 259,476.5C260.8,478.6 263.3,480.4 265,482.5C266.7,484.6 268.2,486.9 269.3,489C270.4,491.1 271,493.3 271.5,495C272,496.7 272.1,498.2 272.3,499.2C272.5,500.2 272.6,500.8 272.7,501.2" fill="none" stroke="#000" stroke-width="1.1"/>
<path d="M239.7,425.4C239.8,425.7 239.9,426 240.2,427.3C240.5,428.6 240.9,430.8 241.7,432.9C242.4,434.9 243.3,437.2 244.7,439.6C246.1,442 248.3,444.7 249.9,447.1C251.5,449.5 253.2,451.6 254.4,453.8C255.7,456 256.3,458.5 257.4,460.5C258.5,462.5 259.6,464.1 261.1,465.8C262.6,467.5 264.3,468.9 266.3,470.5C268.3,472.1 271.1,473.6 273,475.4C274.9,477.2 276.2,479.3 277.5,481.4C278.8,483.5 280.2,485.9 281,488.1C281.8,490.3 282.1,493 282.4,494.8C282.7,496.6 282.6,498.1 282.7,499.2C282.8,500.3 282.8,500.9 282.8,501.2" fill="none" stroke="#000" stroke-width="1.1"/>
<path d="M276.5,430.6C276.2,430.6 276.4,430.6 274.5,430.7C272.6,430.8 267.7,430.9 264.8,431.1C261.9,431.4 259.3,431.5 257.4,432.2C255.5,432.9 254.1,433.8 253.6,435.2C253.1,436.6 254,439.1 254.6,440.4C255.2,441.7 256.4,442.3 257.3,443.2C258.2,444.1 258.9,444.5 259.8,445.7C260.7,446.9 261.9,448.5 262.8,450.1C263.7,451.7 264.7,453.6 265.4,455.3C266.1,457 266.5,458.9 267.1,460.4C267.7,461.9 268.1,463.1 269.2,464.2C270.3,465.3 272.1,466.3 273.5,467.2C274.9,468.1 276.4,468.8 277.8,469.8C279.2,470.8 280.7,471.9 282,473.2C283.3,474.5 284.5,476.2 285.5,477.5C286.5,478.8 287.2,479.8 288,481C288.8,482.2 289.6,483 290.2,484.8C290.8,486.6 291.4,489.4 291.7,491.8C292,494.2 292,497.6 292.1,499.2C292.2,500.8 292.2,500.9 292.2,501.2" fill="none" stroke="#000" stroke-width="1.1"/>
<path d="M276.8,443.4C277.8,442.3 279.7,440.8 281.3,440.4C282.9,440 285,440.2 286.5,441.1C288,442 289.3,443.7 290.2,445.6C291.1,447.5 291.6,449.7 292,452.3C292.4,454.9 292.8,458.7 292.9,461.3C293,463.9 293,466.5 292.4,468C291.8,469.5 290.9,469.9 289.5,470.2C288.1,470.4 285.8,470.2 284.2,469.5C282.6,468.8 281,467.4 279.8,465.8C278.6,464.2 277.6,462.1 276.8,459.8C276.1,457.6 275.5,454.4 275.3,452.3C275.1,450.2 275.4,448.6 275.6,447.1C275.9,445.6 275.9,444.5 276.8,443.4Z" fill="none" stroke="#000" stroke-width="1.1"/>
</g>
</g>
<g><circle cx="191.1" cy="427.3" r="1.38"/><circle cx="195.1" cy="427.3" r="1.38"/><circle cx="199.4" cy="427.3" r="1.38"/><circle cx="212.5" cy="427.3" r="1.38"/><circle cx="218.6" cy="427.3" r="1.38"/><circle cx="222.6" cy="427.3" r="1.38"/><circle cx="226.9" cy="427.3" r="1.38"/><circle cx="240" cy="427.3" r="1.38"/><circle cx="246.1" cy="427.3" r="1.38"/><circle cx="199.4" cy="438.1" r="1.38"/><circle cx="212.5" cy="438.1" r="1.38"/><circle cx="218.6" cy="438.1" r="1.38"/><circle cx="222.6" cy="438.1" r="1.38"/><circle cx="226.9" cy="438.1" r="1.38"/><circle cx="240" cy="438.1" r="1.38"/><circle cx="246.1" cy="438.1" r="1.38"/><circle cx="250.1" cy="438.1" r="1.38"/><circle cx="254.4" cy="438.1" r="1.38"/><circle cx="226.9" cy="463.1" r="1.38"/><circle cx="240" cy="463.1" r="1.38"/><circle cx="246.1" cy="463.1" r="1.38"/><circle cx="250.1" cy="463.1" r="1.38"/><circle cx="254.4" cy="463.1" r="1.38"/><circle cx="267.5" cy="463.1" r="1.38"/><circle cx="273.6" cy="463.1" r="1.38"/><circle cx="277.6" cy="463.1" r="1.38"/><circle cx="281.9" cy="463.1" r="1.38"/><circle cx="246.1" cy="498.9" r="1.38"/><circle cx="250.1" cy="498.9" r="1.38"/><circle cx="254.4" cy="498.9" r="1.38"/><circle cx="267.5" cy="498.9" r="1.38"/><circle cx="273.6" cy="498.9" r="1.38"/><circle cx="277.6" cy="498.9" r="1.38"/><circle cx="281.9" cy="498.9" r="1.38"/><circle cx="295" cy="498.9" r="1.38"/></g>
<g mask="url(#cp32)">
<rect x="301" y="419.3" width="126.2" height="87.6" fill="#13fce4"/>
<g transform="translate(0.0,0)">
<path d="M318.5,427.3C318.9,427.5 320,428.1 321,428.3C322,428.5 323.3,428.8 324.5,428.6C325.7,428.4 327.4,427.5 328,427.3L328,420L318.5,420Z" fill="#007dff"/>
<path d="M331.7,443.6C331.8,443.1 331.9,441.9 332,440.6C332.1,439.3 332,437 332.4,435.5C332.9,434.1 333.4,432.8 334.6,431.9C335.8,431 337.2,430.4 339.5,430.1C341.8,429.7 345.6,429.6 348.3,429.7C350.9,429.8 353.2,429.8 355.3,430.5C357.5,431.3 359.3,432.8 361.2,434.3C363.2,435.8 365.1,437.6 367.1,439.6C369.1,441.6 371.1,444.1 373.1,446.2C375.1,448.3 377.1,450.2 379.2,452.1C381.2,454 383.4,455.8 385.3,457.4C387.2,459.1 388.8,460.7 390.6,462.2C392.4,463.6 394.5,465.1 396.2,466C397.9,466.9 399.4,467.5 400.9,467.5C402.4,467.5 404,466.9 405.3,465.8C406.6,464.8 407.7,462.8 408.7,461.3C409.7,459.9 410.7,458.2 411.4,457.1C412.1,456 412.8,455 413,454.6L420,457.5L420,510L300,510L300,441.5Z" fill="#7aff7d"/>
<path d="M334.1,450.9C334.5,450.5 335.5,449.1 336,448.5C336.5,447.9 336.3,448 337.1,447.1C337.9,446.2 339.2,444.3 340.8,443.4C342.4,442.5 344.6,442 346.8,441.9C349.1,441.8 351.9,442 354.3,442.6C356.7,443.2 358.9,444.4 361,445.6C363.1,446.9 365,448.4 366.9,450.1C368.8,451.8 370.6,454 372.5,456C374.4,458 375.9,460.3 378,462C380.1,463.7 382.9,464.9 385.1,466.4C387.3,467.9 389.1,469.3 391,470.9C392.9,472.5 394.7,474.2 396.3,476.1C397.9,478 399.5,480 400.7,482.1C401.9,484.2 402.9,486.7 403.7,488.8C404.4,490.9 404.9,493.1 405.2,494.8C405.5,496.5 405.4,498 405.5,499.2C405.6,500.4 405.7,501.7 405.7,502.2L405.5,510L300,510L300,448.5Z" fill="#e1ff16"/>
<path d="M338.2,458.9C338.6,458.6 339.9,457.5 340.5,457C341.1,456.5 340.6,456.6 341.6,456.1C342.7,455.6 344.7,454.1 346.8,453.8C348.9,453.6 351.8,454 354.3,454.6C356.8,455.2 359.5,456.4 361.7,457.6C363.9,458.8 365.9,460.8 367.7,462C369.5,463.2 370.4,463.7 372.4,464.8C374.4,465.9 377.5,467.2 379.9,468.7C382.3,470.2 384.5,472 386.6,473.9C388.7,475.8 390.8,477.8 392.5,479.9C394.2,482 395.8,484.4 397,486.6C398.2,488.8 399.4,491.2 400,493.3C400.6,495.4 400.5,497.7 400.7,499.2C400.9,500.7 401,501.7 401.1,502.2L400.7,510L300,510L300,457Z" fill="#ff9800"/>
<path d="M357.6,475.8C357.9,475.4 359,474.1 359.5,473.5C360,472.9 359.5,472.8 360.4,472.4C361.3,472 363.1,470.9 364.9,470.9C366.6,470.9 368.9,471.4 370.9,472.4C372.9,473.4 374.9,475.3 376.9,476.9C378.9,478.5 380.9,480.2 382.8,482.1C384.7,484 386.7,486.1 388.1,488.1C389.5,490.1 390.3,492.2 391,494.1C391.7,496 391.8,497.9 392.1,499.2C392.4,500.5 392.6,501.6 392.7,502.1L392.1,510L300,510L300,473.5Z" fill="#ff2200"/>
<path d="M366.2,500.2C366.2,500 366.2,500 366.4,499.2C366.6,498.4 366.7,496.5 367.2,495.6C367.7,494.8 368.7,494.1 369.4,494.1C370.1,494.1 371.1,494.8 371.6,495.6C372.2,496.5 372.5,498.4 372.7,499.2C372.9,500 372.9,500 373,500.2L373,506.9L366.2,506.9Z" fill="#800000"/>
<path d="M363,424.6C363.2,425 363.6,426 364.2,427.3C364.8,428.6 365.2,430.4 366.4,432.2C367.6,434 369.7,436.1 371.6,438.1C373.5,440.1 375.6,442.1 377.6,444.1C379.6,446.1 381.6,448.2 383.6,450.1C385.6,452 387.6,453.8 389.6,455.3C391.6,456.8 393.6,458.2 395.5,459C397.4,459.8 399.2,460 400.7,459.8C402.2,459.6 403.4,458.6 404.5,457.6C405.6,456.6 406.6,455.2 407.5,453.8C408.4,452.4 409.4,450.2 410,449C410.6,447.8 411.2,446.8 411.4,446.3L427.2,446.3L427.2,419.3L363,419.3Z" fill="#007dff"/>
<path d="M369.5,424.7C369.7,425.1 370.2,425.9 370.9,427.3C371.6,428.7 372.5,431.1 373.9,432.9C375.3,434.7 377.1,436.5 379.1,438.1C381.1,439.7 383.6,441.4 385.8,442.6C388,443.8 390.4,444.8 392.5,445.2C394.6,445.6 396.8,445.4 398.5,444.9C400.2,444.3 401.8,442.9 403,441.9C404.2,440.8 404.8,439.8 405.5,438.6C406.2,437.5 406.9,436 407.5,435C408.1,434 408.7,432.8 409,432.4L427.2,432.4L427.2,419.3L369.5,419.3Z" fill="#0000ff"/>
<path d="M375.1,426.5C375.2,426.6 375.3,426.8 375.6,427.3C375.9,427.8 376.3,428.6 377,429.5C377.7,430.4 378.3,431.8 379.6,433C380.9,434.2 382.9,435.8 384.9,436.7C386.8,437.6 389.2,438.4 391.3,438.6C393.4,438.8 395.5,438.5 397.2,438C398.9,437.5 400.3,436.5 401.4,435.7C402.5,434.9 403.2,433.8 404,433C404.8,432.2 405.7,431.2 406.1,430.8L427.2,430.8L427.2,419.3L375.1,419.3Z" fill="#000080"/>
<path d="M330.7,442.5C330.7,442.2 330.8,441.7 330.9,440.5C331,439.3 330.9,436.8 331.4,435.2C331.9,433.6 332.6,432 333.9,431C335.2,430 336.9,429.4 339.3,429C341.7,428.6 345.6,428.5 348.3,428.6C351,428.7 353.4,428.7 355.7,429.5C358,430.3 359.9,431.8 361.9,433.4C363.9,434.9 365.9,436.8 367.9,438.8C369.9,440.8 371.9,443.3 373.9,445.4C375.9,447.5 377.9,449.4 379.9,451.3C381.9,453.2 384.1,454.9 386,456.6C387.9,458.3 389.5,459.9 391.3,461.3C393.1,462.7 395.1,464.1 396.7,465C398.3,465.9 399.6,466.4 400.9,466.4C402.2,466.4 403.5,465.9 404.6,465C405.8,464.1 406.8,462.1 407.8,460.7C408.8,459.3 409.9,457.5 410.5,456.5C411.1,455.5 411.4,455.1 411.6,454.8" fill="none" stroke="#000" stroke-width="1.1"/>
<path d="M337.2,451.9C337.4,451.6 338,450.7 338.3,450.2C338.6,449.7 338.4,449.4 339.3,448.6C340.2,447.8 342.1,446.2 343.8,445.6C345.6,445 347.7,444.8 349.8,444.9C351.9,445 354.4,445.4 356.5,446.1C358.6,446.8 360.6,448 362.5,449.3C364.4,450.6 366,452.2 367.7,453.8C369.4,455.4 370.9,457.6 372.5,459.2C374.1,460.8 375.7,462.3 377.4,463.5C379.1,464.7 380.9,465.4 382.8,466.6C384.7,467.8 386.9,469.3 388.8,470.9C390.7,472.5 392.4,474.2 394,476.1C395.6,478 397.2,480 398.5,482.1C399.8,484.2 400.8,486.7 401.5,488.8C402.2,490.9 402.7,493.1 403,494.8C403.3,496.5 403.3,498.1 403.4,499.2C403.5,500.3 403.6,500.9 403.6,501.2" fill="none" stroke="#000" stroke-width="1.1"/>
<path d="M359.6,477C359.8,476.8 360.6,476 361,475.6C361.4,475.2 361,475 361.9,474.7C362.8,474.4 364.8,473.5 366.4,473.6C368,473.7 369.9,474.4 371.6,475.4C373.4,476.4 375.1,478 376.9,479.6C378.6,481.2 380.5,483.2 382.1,485.1C383.7,487 385.4,489.2 386.6,491.1C387.8,493 388.6,495 389.1,496.3C389.6,497.6 389.5,498.4 389.7,499.2C389.9,500 390,500.8 390.1,501.2" fill="none" stroke="#000" stroke-width="1.1"/>
<path d="M370,425.5C370.1,425.8 370.2,426.1 370.9,427.3C371.6,428.5 372.5,431.1 373.9,432.9C375.3,434.7 377.1,436.5 379.1,438.1C381.1,439.7 383.6,441.4 385.8,442.6C388,443.8 390.4,444.8 392.5,445.2C394.6,445.6 396.8,445.4 398.5,444.9C400.2,444.3 401.8,442.9 403,441.9C404.2,440.8 404.8,439.8 405.5,438.6C406.2,437.5 407,435.9 407.5,435C408,434.1 408.3,433.5 408.5,433.3" fill="none" stroke="#000" stroke-width="1.1"/>
</g>
</g>
<g><circle cx="313.6" cy="427.3" r="1.38"/><circle cx="317.9" cy="427.3" r="1.38"/><circle cx="322.5" cy="427.3" r="1.38"/><circle cx="336.6" cy="427.3" r="1.38"/><circle cx="343.2" cy="427.3" r="1.38"/><circle cx="347.5" cy="427.3" r="1.38"/><circle cx="352.1" cy="427.3" r="1.38"/><circle cx="366.2" cy="427.3" r="1.38"/><circle cx="372.8" cy="427.3" r="1.38"/><circle cx="322.5" cy="438.1" r="1.38"/><circle cx="336.6" cy="438.1" r="1.38"/><circle cx="343.2" cy="438.1" r="1.38"/><circle cx="347.5" cy="438.1" r="1.38"/><circle cx="352.1" cy="438.1" r="1.38"/><circle cx="366.2" cy="438.1" r="1.38"/><circle cx="372.8" cy="438.1" r="1.38"/><circle cx="377.1" cy="438.1" r="1.38"/><circle cx="381.7" cy="438.1" r="1.38"/><circle cx="343.2" cy="463.1" r="1.38"/><circle cx="347.5" cy="463.1" r="1.38"/><circle cx="352.1" cy="463.1" r="1.38"/><circle cx="366.2" cy="463.1" r="1.38"/><circle cx="372.8" cy="463.1" r="1.38"/><circle cx="377.1" cy="463.1" r="1.38"/><circle cx="381.7" cy="463.1" r="1.38"/><circle cx="395.8" cy="463.1" r="1.38"/><circle cx="402.4" cy="463.1" r="1.38"/><circle cx="366.2" cy="498.9" r="1.38"/><circle cx="372.8" cy="498.9" r="1.38"/><circle cx="377.1" cy="498.9" r="1.38"/><circle cx="381.7" cy="498.9" r="1.38"/><circle cx="395.8" cy="498.9" r="1.38"/><circle cx="402.4" cy="498.9" r="1.38"/><circle cx="406.7" cy="498.9" r="1.38"/><circle cx="411.3" cy="498.9" r="1.38"/></g>
<g opacity="0.999" fill="#222">
<path d="M60.4,146H421.1M60.9,52V146.6M60.9,135h-3.7M60.9,99.2h-3.7M60.9,63.4h-3.7M77.6,146v3.9M105.1,146v3.9M132.6,146v3.9M160.1,146v3.9M182.8,52V146.6M182.8,135h-3.7M182.8,99.2h-3.7M182.8,63.4h-3.7M199.4,146v3.9M226.9,146v3.9M254.4,146v3.9M281.9,146v3.9M305,52V146.6M305,135h-3.7M305,99.2h-3.7M305,63.4h-3.7M322.5,146v3.9M352.1,146v3.9M381.7,146v3.9M411.3,146v3.9M60.4,267.3H421.1M60.9,173.3V267.9M60.9,256.3h-3.7M60.9,220.5h-3.7M60.9,184.7h-3.7M77.6,267.3v3.9M105.1,267.3v3.9M132.6,267.3v3.9M160.1,267.3v3.9M182.8,173.3V267.9M182.8,256.3h-3.7M182.8,220.5h-3.7M182.8,184.7h-3.7M199.4,267.3v3.9M226.9,267.3v3.9M254.4,267.3v3.9M281.9,267.3v3.9M305,173.3V267.9M305,256.3h-3.7M305,220.5h-3.7M305,184.7h-3.7M322.5,267.3v3.9M352.1,267.3v3.9M381.7,267.3v3.9M411.3,267.3v3.9M60.4,388.6H421.1M60.9,294.6V389.2M60.9,377.6h-3.7M60.9,341.8h-3.7M60.9,306h-3.7M77.6,388.6v3.9M105.1,388.6v3.9M132.6,388.6v3.9M160.1,388.6v3.9M182.8,294.6V389.2M182.8,377.6h-3.7M182.8,341.8h-3.7M182.8,306h-3.7M199.4,388.6v3.9M226.9,388.6v3.9M254.4,388.6v3.9M281.9,388.6v3.9M305,294.6V389.2M305,377.6h-3.7M305,341.8h-3.7M305,306h-3.7M322.5,388.6v3.9M352.1,388.6v3.9M381.7,388.6v3.9M411.3,388.6v3.9M60.4,509.9H421.1M60.9,415.9V510.4M60.9,498.9h-3.7M60.9,463.1h-3.7M60.9,427.3h-3.7M77.6,509.9v3.9M105.1,509.9v3.9M132.6,509.9v3.9M160.1,509.9v3.9M182.8,415.9V510.4M182.8,498.9h-3.7M182.8,463.1h-3.7M182.8,427.3h-3.7M199.4,509.9v3.9M226.9,509.9v3.9M254.4,509.9v3.9M281.9,509.9v3.9M305,415.9V510.4M305,498.9h-3.7M305,463.1h-3.7M305,427.3h-3.7M322.5,509.9v3.9M352.1,509.9v3.9M381.7,509.9v3.9M411.3,509.9v3.9" stroke="#1a1a1a" stroke-width="1.15" fill="none"/>
<path d="M60.5,124.2h-2.0M60.5,117.9h-2.0M60.5,113.4h-2.0M60.5,110h-2.0M60.5,107.1h-2.0M60.5,104.7h-2.0M60.5,102.7h-2.0M60.5,100.8h-2.0M60.5,88.4h-2.0M60.5,82.1h-2.0M60.5,77.6h-2.0M60.5,74.2h-2.0M60.5,71.3h-2.0M60.5,68.9h-2.0M60.5,66.9h-2.0M60.5,65h-2.0M60.5,52.6h-2.0M60.5,142.9h-2.0M60.5,140.5h-2.0M60.5,138.5h-2.0M60.5,136.6h-2.0M60.5,52.6h-2.0M182.4,124.2h-2.0M182.4,117.9h-2.0M182.4,113.4h-2.0M182.4,110h-2.0M182.4,107.1h-2.0M182.4,104.7h-2.0M182.4,102.7h-2.0M182.4,100.8h-2.0M182.4,88.4h-2.0M182.4,82.1h-2.0M182.4,77.6h-2.0M182.4,74.2h-2.0M182.4,71.3h-2.0M182.4,68.9h-2.0M182.4,66.9h-2.0M182.4,65h-2.0M182.4,52.6h-2.0M182.4,142.9h-2.0M182.4,140.5h-2.0M182.4,138.5h-2.0M182.4,136.6h-2.0M182.4,52.6h-2.0M304.6,124.2h-2.0M304.6,117.9h-2.0M304.6,113.4h-2.0M304.6,110h-2.0M304.6,107.1h-2.0M304.6,104.7h-2.0M304.6,102.7h-2.0M304.6,100.8h-2.0M304.6,88.4h-2.0M304.6,82.1h-2.0M304.6,77.6h-2.0M304.6,74.2h-2.0M304.6,71.3h-2.0M304.6,68.9h-2.0M304.6,66.9h-2.0M304.6,65h-2.0M304.6,52.6h-2.0M304.6,142.9h-2.0M304.6,140.5h-2.0M304.6,138.5h-2.0M304.6,136.6h-2.0M304.6,52.6h-2.0M60.5,245.5h-2.0M60.5,239.2h-2.0M60.5,234.7h-2.0M60.5,231.3h-2.0M60.5,228.4h-2.0M60.5,226h-2.0M60.5,224h-2.0M60.5,222.1h-2.0M60.5,209.7h-2.0M60.5,203.4h-2.0M60.5,198.9h-2.0M60.5,195.5h-2.0M60.5,192.6h-2.0M60.5,190.2h-2.0M60.5,188.2h-2.0M60.5,186.3h-2.0M60.5,173.9h-2.0M60.5,264.2h-2.0M60.5,261.8h-2.0M60.5,259.8h-2.0M60.5,257.9h-2.0M60.5,173.9h-2.0M182.4,245.5h-2.0M182.4,239.2h-2.0M182.4,234.7h-2.0M182.4,231.3h-2.0M182.4,228.4h-2.0M182.4,226h-2.0M182.4,224h-2.0M182.4,222.1h-2.0M182.4,209.7h-2.0M182.4,203.4h-2.0M182.4,198.9h-2.0M182.4,195.5h-2.0M182.4,192.6h-2.0M182.4,190.2h-2.0M182.4,188.2h-2.0M182.4,186.3h-2.0M182.4,173.9h-2.0M182.4,264.2h-2.0M182.4,261.8h-2.0M182.4,259.8h-2.0M182.4,257.9h-2.0M182.4,173.9h-2.0M304.6,245.5h-2.0M304.6,239.2h-2.0M304.6,234.7h-2.0M304.6,231.3h-2.0M304.6,228.4h-2.0M304.6,226h-2.0M304.6,224h-2.0M304.6,222.1h-2.0M304.6,209.7h-2.0M304.6,203.4h-2.0M304.6,198.9h-2.0M304.6,195.5h-2.0M304.6,192.6h-2.0M304.6,190.2h-2.0M304.6,188.2h-2.0M304.6,186.3h-2.0M304.6,173.9h-2.0M304.6,264.2h-2.0M304.6,261.8h-2.0M304.6,259.8h-2.0M304.6,257.9h-2.0M304.6,173.9h-2.0M60.5,366.8h-2.0M60.5,360.5h-2.0M60.5,356h-2.0M60.5,352.6h-2.0M60.5,349.7h-2.0M60.5,347.3h-2.0M60.5,345.3h-2.0M60.5,343.4h-2.0M60.5,331h-2.0M60.5,324.7h-2.0M60.5,320.2h-2.0M60.5,316.8h-2.0M60.5,313.9h-2.0M60.5,311.5h-2.0M60.5,309.5h-2.0M60.5,307.6h-2.0M60.5,295.2h-2.0M60.5,385.5h-2.0M60.5,383.1h-2.0M60.5,381.1h-2.0M60.5,379.2h-2.0M60.5,295.2h-2.0M182.4,366.8h-2.0M182.4,360.5h-2.0M182.4,356h-2.0M182.4,352.6h-2.0M182.4,349.7h-2.0M182.4,347.3h-2.0M182.4,345.3h-2.0M182.4,343.4h-2.0M182.4,331h-2.0M182.4,324.7h-2.0M182.4,320.2h-2.0M182.4,316.8h-2.0M182.4,313.9h-2.0M182.4,311.5h-2.0M182.4,309.5h-2.0M182.4,307.6h-2.0M182.4,295.2h-2.0M182.4,385.5h-2.0M182.4,383.1h-2.0M182.4,381.1h-2.0M182.4,379.2h-2.0M182.4,295.2h-2.0M304.6,366.8h-2.0M304.6,360.5h-2.0M304.6,356h-2.0M304.6,352.6h-2.0M304.6,349.7h-2.0M304.6,347.3h-2.0M304.6,345.3h-2.0M304.6,343.4h-2.0M304.6,331h-2.0M304.6,324.7h-2.0M304.6,320.2h-2.0M304.6,316.8h-2.0M304.6,313.9h-2.0M304.6,311.5h-2.0M304.6,309.5h-2.0M304.6,307.6h-2.0M304.6,295.2h-2.0M304.6,385.5h-2.0M304.6,383.1h-2.0M304.6,381.1h-2.0M304.6,379.2h-2.0M304.6,295.2h-2.0M60.5,488.1h-2.0M60.5,481.8h-2.0M60.5,477.3h-2.0M60.5,473.9h-2.0M60.5,471h-2.0M60.5,468.6h-2.0M60.5,466.6h-2.0M60.5,464.7h-2.0M60.5,452.3h-2.0M60.5,446h-2.0M60.5,441.5h-2.0M60.5,438.1h-2.0M60.5,435.2h-2.0M60.5,432.8h-2.0M60.5,430.8h-2.0M60.5,428.9h-2.0M60.5,416.5h-2.0M60.5,506.8h-2.0M60.5,504.4h-2.0M60.5,502.4h-2.0M60.5,500.5h-2.0M60.5,416.5h-2.0M182.4,488.1h-2.0M182.4,481.8h-2.0M182.4,477.3h-2.0M182.4,473.9h-2.0M182.4,471h-2.0M182.4,468.6h-2.0M182.4,466.6h-2.0M182.4,464.7h-2.0M182.4,452.3h-2.0M182.4,446h-2.0M182.4,441.5h-2.0M182.4,438.1h-2.0M182.4,435.2h-2.0M182.4,432.8h-2.0M182.4,430.8h-2.0M182.4,428.9h-2.0M182.4,416.5h-2.0M182.4,506.8h-2.0M182.4,504.4h-2.0M182.4,502.4h-2.0M182.4,500.5h-2.0M182.4,416.5h-2.0M304.6,488.1h-2.0M304.6,481.8h-2.0M304.6,477.3h-2.0M304.6,473.9h-2.0M304.6,471h-2.0M304.6,468.6h-2.0M304.6,466.6h-2.0M304.6,464.7h-2.0M304.6,452.3h-2.0M304.6,446h-2.0M304.6,441.5h-2.0M304.6,438.1h-2.0M304.6,435.2h-2.0M304.6,432.8h-2.0M304.6,430.8h-2.0M304.6,428.9h-2.0M304.6,416.5h-2.0M304.6,506.8h-2.0M304.6,504.4h-2.0M304.6,502.4h-2.0M304.6,500.5h-2.0M304.6,416.5h-2.0" stroke="#333" stroke-width="0.75" fill="none"/>
<text x="26.9" y="67.2" font-size="10.4" text-anchor="start" textLength="12.9" lengthAdjust="spacingAndGlyphs">10</text>
<text x="41.3" y="62.9" font-size="7.8" text-anchor="start" textLength="10.8" lengthAdjust="spacingAndGlyphs">−1</text>
<text x="26.9" y="103" font-size="10.4" text-anchor="start" textLength="12.9" lengthAdjust="spacingAndGlyphs">10</text>
<text x="41.3" y="98.7" font-size="7.8" text-anchor="start" textLength="10.8" lengthAdjust="spacingAndGlyphs">−2</text>
<text x="26.9" y="138.8" font-size="10.4" text-anchor="start" textLength="12.9" lengthAdjust="spacingAndGlyphs">10</text>
<text x="41.3" y="134.5" font-size="7.8" text-anchor="start" textLength="10.8" lengthAdjust="spacingAndGlyphs">−3</text>
<text transform="translate(20.6,99) rotate(-90)" font-size="12" text-anchor="middle" textLength="50" lengthAdjust="spacingAndGlyphs"><tspan font-style="italic">μ</tspan> (1/day)</text>
<text x="26.9" y="188.4" font-size="10.4" text-anchor="start" textLength="12.9" lengthAdjust="spacingAndGlyphs">10</text>
<text x="41.3" y="184.2" font-size="7.8" text-anchor="start" textLength="10.8" lengthAdjust="spacingAndGlyphs">−1</text>
<text x="26.9" y="224.2" font-size="10.4" text-anchor="start" textLength="12.9" lengthAdjust="spacingAndGlyphs">10</text>
<text x="41.3" y="220" font-size="7.8" text-anchor="start" textLength="10.8" lengthAdjust="spacingAndGlyphs">−2</text>
<text x="26.9" y="260.1" font-size="10.4" text-anchor="start" textLength="12.9" lengthAdjust="spacingAndGlyphs">10</text>
<text x="41.3" y="255.8" font-size="7.8" text-anchor="start" textLength="10.8" lengthAdjust="spacingAndGlyphs">−3</text>
<text transform="translate(20.6,220.3) rotate(-90)" font-size="12" text-anchor="middle" textLength="50" lengthAdjust="spacingAndGlyphs"><tspan font-style="italic">μ</tspan> (1/day)</text>
<text x="26.9" y="309.8" font-size="10.4" text-anchor="start" textLength="12.9" lengthAdjust="spacingAndGlyphs">10</text>
<text x="41.3" y="305.5" font-size="7.8" text-anchor="start" textLength="10.8" lengthAdjust="spacingAndGlyphs">−1</text>
<text x="26.9" y="345.6" font-size="10.4" text-anchor="start" textLength="12.9" lengthAdjust="spacingAndGlyphs">10</text>
<text x="41.3" y="341.3" font-size="7.8" text-anchor="start" textLength="10.8" lengthAdjust="spacingAndGlyphs">−2</text>
<text x="26.9" y="381.4" font-size="10.4" text-anchor="start" textLength="12.9" lengthAdjust="spacingAndGlyphs">10</text>
<text x="41.3" y="377.1" font-size="7.8" text-anchor="start" textLength="10.8" lengthAdjust="spacingAndGlyphs">−3</text>
<text transform="translate(20.6,341.6) rotate(-90)" font-size="12" text-anchor="middle" textLength="50" lengthAdjust="spacingAndGlyphs"><tspan font-style="italic">μ</tspan> (1/day)</text>
<text x="26.9" y="431" font-size="10.4" text-anchor="start" textLength="12.9" lengthAdjust="spacingAndGlyphs">10</text>
<text x="41.3" y="426.8" font-size="7.8" text-anchor="start" textLength="10.8" lengthAdjust="spacingAndGlyphs">−1</text>
<text x="26.9" y="466.8" font-size="10.4" text-anchor="start" textLength="12.9" lengthAdjust="spacingAndGlyphs">10</text>
<text x="41.3" y="462.6" font-size="7.8" text-anchor="start" textLength="10.8" lengthAdjust="spacingAndGlyphs">−2</text>
<text x="26.9" y="502.6" font-size="10.4" text-anchor="start" textLength="12.9" lengthAdjust="spacingAndGlyphs">10</text>
<text x="41.3" y="498.4" font-size="7.8" text-anchor="start" textLength="10.8" lengthAdjust="spacingAndGlyphs">−3</text>
<text transform="translate(20.6,462.9) rotate(-90)" font-size="12" text-anchor="middle" textLength="50" lengthAdjust="spacingAndGlyphs"><tspan font-style="italic">μ</tspan> (1/day)</text>
<text transform="translate(10.47,46.1) scale(1.09,1)" font-size="19.8" font-weight="bold" stroke="#222" stroke-width="0.4">A</text>
<text x="31.6" y="46.1" font-size="11.3" text-anchor="start" textLength="107.6" lengthAdjust="spacingAndGlyphs">number of lineages</text>
<text transform="translate(10.7,167.4) scale(0.98,1)" font-size="19.8" font-weight="bold" stroke="#222" stroke-width="0.4">B</text>
<text x="31.6" y="167.4" font-size="11.3" text-anchor="start" textLength="165.8" lengthAdjust="spacingAndGlyphs">probability of a single lineage</text>
<text transform="translate(10.8,288.8) scale(0.99,1)" font-size="19.8" font-weight="bold" stroke="#222" stroke-width="0.4">C</text>
<text x="31.6" y="288.7" font-size="11.3" text-anchor="start" textLength="178.4" lengthAdjust="spacingAndGlyphs">rate of lineage splitting (1/year)</text>
<text transform="translate(10.75,410) scale(1.1,1)" font-size="19.8" font-weight="bold" stroke="#222" stroke-width="0.4">D</text>
<text x="31.6" y="410" font-size="11.3" text-anchor="start" textLength="140.6" lengthAdjust="spacingAndGlyphs">coalescence time (years)</text>
<text x="119.6" y="15.8" font-size="11.4" text-anchor="middle">i</text>
<text x="241.5" y="15.8" font-size="11.4" text-anchor="middle">ii</text>
<text x="361.1" y="15.8" font-size="11.4" text-anchor="middle">iii</text>
<text x="89.3" y="30.7" font-size="12.6" font-style="italic">f</text><path d="M90.8,20.9h4.2" stroke="#000" stroke-width="0.9"/><text x="95.3" y="33.0" font-size="8.6" font-style="italic">i</text><text x="99" y="30.7" font-size="11.6" text-anchor="start" textLength="7.6" lengthAdjust="spacingAndGlyphs">=</text><text x="110.2" y="30.7" font-size="11.6" text-anchor="start" textLength="6.2" lengthAdjust="spacingAndGlyphs">8</text><text x="117.6" y="31.1" font-size="13.2" text-anchor="start" textLength="7.6" lengthAdjust="spacingAndGlyphs">×</text><text x="127.2" y="30.7" font-size="11.6" text-anchor="start" textLength="13" lengthAdjust="spacingAndGlyphs">10</text><text x="141" y="26.7" font-size="8.2" text-anchor="start" textLength="8.8" lengthAdjust="spacingAndGlyphs">−4</text>
<text x="219.5" y="30.7" font-size="12.6" font-style="italic">f</text><path d="M221,20.9h4.2" stroke="#000" stroke-width="0.9"/><text x="225.5" y="33.0" font-size="8.6" font-style="italic">i</text><text x="229.3" y="30.7" font-size="11.6" text-anchor="start" textLength="7.6" lengthAdjust="spacingAndGlyphs">=</text><text x="240.8" y="30.7" font-size="11.6" text-anchor="start" textLength="13" lengthAdjust="spacingAndGlyphs">10</text><text x="254.5" y="26.7" font-size="8.2" text-anchor="start" textLength="8.8" lengthAdjust="spacingAndGlyphs">−3</text>
<text x="323.9" y="30.7" font-size="12.6" font-style="italic">f</text><path d="M325.4,20.9h4.2" stroke="#000" stroke-width="0.9"/><text x="329.9" y="33.0" font-size="8.6" font-style="italic">i</text><text x="335.8" y="30.7" font-size="11.6" text-anchor="start" textLength="7.6" lengthAdjust="spacingAndGlyphs">=</text><text x="346.8" y="30.7" font-size="11.6" text-anchor="start" textLength="15.8" lengthAdjust="spacingAndGlyphs">1.5</text><text x="364.2" y="31.1" font-size="13.2" text-anchor="start" textLength="7.6" lengthAdjust="spacingAndGlyphs">×</text><text x="373.4" y="30.7" font-size="11.6" text-anchor="start" textLength="13" lengthAdjust="spacingAndGlyphs">10</text><text x="387.4" y="26.7" font-size="8.2" text-anchor="start" textLength="8.8" lengthAdjust="spacingAndGlyphs">−3</text>
<text x="65" y="525.9" font-size="10.4" text-anchor="start" textLength="12.9" lengthAdjust="spacingAndGlyphs">10</text>
<text x="78.5" y="522" font-size="7.8" text-anchor="start" textLength="10.8" lengthAdjust="spacingAndGlyphs">−4</text>
<text x="147.5" y="525.9" font-size="10.4" text-anchor="start" textLength="12.9" lengthAdjust="spacingAndGlyphs">10</text>
<text x="161" y="522" font-size="7.8" text-anchor="start" textLength="10.8" lengthAdjust="spacingAndGlyphs">−1</text>
<text x="121.5" y="540.5" font-size="11.3" font-style="italic" text-anchor="middle" textLength="18.4" lengthAdjust="spacingAndGlyphs">σ/d</text>
<text x="186.8" y="525.9" font-size="10.4" text-anchor="start" textLength="12.9" lengthAdjust="spacingAndGlyphs">10</text>
<text x="200.3" y="522" font-size="7.8" text-anchor="start" textLength="10.8" lengthAdjust="spacingAndGlyphs">−4</text>
<text x="269.3" y="525.9" font-size="10.4" text-anchor="start" textLength="12.9" lengthAdjust="spacingAndGlyphs">10</text>
<text x="282.8" y="522" font-size="7.8" text-anchor="start" textLength="10.8" lengthAdjust="spacingAndGlyphs">−1</text>
<text x="243.5" y="540.5" font-size="11.3" font-style="italic" text-anchor="middle" textLength="18.4" lengthAdjust="spacingAndGlyphs">σ/d</text>
<text x="309.9" y="525.9" font-size="10.4" text-anchor="start" textLength="12.9" lengthAdjust="spacingAndGlyphs">10</text>
<text x="323.4" y="522" font-size="7.8" text-anchor="start" textLength="10.8" lengthAdjust="spacingAndGlyphs">−4</text>
<text x="398.7" y="525.9" font-size="10.4" text-anchor="start" textLength="12.9" lengthAdjust="spacingAndGlyphs">10</text>
<text x="412.2" y="522" font-size="7.8" text-anchor="start" textLength="10.8" lengthAdjust="spacingAndGlyphs">−1</text>
<text x="362.4" y="540.5" font-size="11.3" font-style="italic" text-anchor="middle" textLength="18.4" lengthAdjust="spacingAndGlyphs">σ/d</text>
<rect x="427.0" y="135.5" width="5.8" height="10.4" fill="#800000"/>
<rect x="427.0" y="125.1" width="5.8" height="10.7" fill="#ff2200"/>
<rect x="427.0" y="114.7" width="5.8" height="10.7" fill="#ff9800"/>
<rect x="427.0" y="104.3" width="5.8" height="10.7" fill="#e1ff16"/>
<rect x="427.0" y="93.8" width="5.8" height="10.7" fill="#7aff7d"/>
<rect x="427.0" y="83.4" width="5.8" height="10.7" fill="#13fce4"/>
<rect x="427.0" y="73" width="5.8" height="10.7" fill="#007dff"/>
<rect x="427.0" y="62.6" width="5.8" height="10.7" fill="#0000ff"/>
<rect x="427.0" y="52.2" width="5.8" height="10.7" fill="#000080"/>
<rect x="427.0" y="52.2" width="5.8" height="93.7" fill="none" stroke="#1a1a1a" stroke-width="0.9"/>
<text x="440.5" y="150.2" font-size="10.5" text-anchor="start" textLength="5.6" lengthAdjust="spacingAndGlyphs">1</text>
<text x="440.5" y="127" font-size="10.5" text-anchor="start" textLength="6.2" lengthAdjust="spacingAndGlyphs">2</text>
<text x="440.5" y="103.8" font-size="10.5" text-anchor="start" textLength="6.2" lengthAdjust="spacingAndGlyphs">3</text>
<text x="440.5" y="80.6" font-size="10.5" text-anchor="start" textLength="6.3" lengthAdjust="spacingAndGlyphs">4</text>
<path d="M432.8,145.6h3M432.8,122.4h3M432.8,99.2h3M432.8,76h3" stroke="#000" stroke-width="1" fill="none"/>
<rect x="427.0" y="256.8" width="5.8" height="10.4" fill="#800000"/>
<rect x="427.0" y="246.4" width="5.8" height="10.7" fill="#ff2200"/>
<rect x="427.0" y="236" width="5.8" height="10.7" fill="#ff9800"/>
<rect x="427.0" y="225.6" width="5.8" height="10.7" fill="#e1ff16"/>
<rect x="427.0" y="215.1" width="5.8" height="10.7" fill="#7aff7d"/>
<rect x="427.0" y="204.7" width="5.8" height="10.7" fill="#13fce4"/>
<rect x="427.0" y="194.3" width="5.8" height="10.7" fill="#007dff"/>
<rect x="427.0" y="183.9" width="5.8" height="10.7" fill="#0000ff"/>
<rect x="427.0" y="173.5" width="5.8" height="10.7" fill="#000080"/>
<rect x="427.0" y="173.5" width="5.8" height="93.7" fill="none" stroke="#1a1a1a" stroke-width="0.9"/>
<text x="440.5" y="271.4" font-size="10.5" text-anchor="start" textLength="16.8" lengthAdjust="spacingAndGlyphs">0.0</text>
<text x="440.5" y="224.7" font-size="10.5" text-anchor="start" textLength="16.8" lengthAdjust="spacingAndGlyphs">0.5</text>
<text x="440.5" y="178.1" font-size="10.5" text-anchor="start" textLength="16.8" lengthAdjust="spacingAndGlyphs">1.0</text>
<path d="M432.8,266.8h3M432.8,220.1h3M432.8,173.5h3" stroke="#000" stroke-width="1" fill="none"/>
<rect x="427.0" y="378.1" width="5.8" height="10.4" fill="#800000"/>
<rect x="427.0" y="367.7" width="5.8" height="10.7" fill="#ff2200"/>
<rect x="427.0" y="357.3" width="5.8" height="10.7" fill="#ff9800"/>
<rect x="427.0" y="346.9" width="5.8" height="10.7" fill="#e1ff16"/>
<rect x="427.0" y="336.4" width="5.8" height="10.7" fill="#7aff7d"/>
<rect x="427.0" y="326" width="5.8" height="10.7" fill="#13fce4"/>
<rect x="427.0" y="315.6" width="5.8" height="10.7" fill="#007dff"/>
<rect x="427.0" y="305.2" width="5.8" height="10.7" fill="#0000ff"/>
<rect x="427.0" y="294.8" width="5.8" height="10.7" fill="#000080"/>
<rect x="427.0" y="294.8" width="5.8" height="93.7" fill="none" stroke="#1a1a1a" stroke-width="0.9"/>
<text x="440.5" y="392.6" font-size="10.5" text-anchor="start" textLength="16.8" lengthAdjust="spacingAndGlyphs">0.0</text>
<text x="440.5" y="355.4" font-size="10.5" text-anchor="start" textLength="16.8" lengthAdjust="spacingAndGlyphs">0.1</text>
<text x="440.5" y="318.3" font-size="10.5" text-anchor="start" textLength="16.8" lengthAdjust="spacingAndGlyphs">0.2</text>
<path d="M432.8,388h3M432.8,350.8h3M432.8,313.7h3" stroke="#000" stroke-width="1" fill="none"/>
<rect x="427.0" y="499.4" width="5.8" height="10.4" fill="#800000"/>
<rect x="427.0" y="489" width="5.8" height="10.7" fill="#ff2200"/>
<rect x="427.0" y="478.6" width="5.8" height="10.7" fill="#ff9800"/>
<rect x="427.0" y="468.2" width="5.8" height="10.7" fill="#e1ff16"/>
<rect x="427.0" y="457.7" width="5.8" height="10.7" fill="#7aff7d"/>
<rect x="427.0" y="447.3" width="5.8" height="10.7" fill="#13fce4"/>
<rect x="427.0" y="436.9" width="5.8" height="10.7" fill="#007dff"/>
<rect x="427.0" y="426.5" width="5.8" height="10.7" fill="#0000ff"/>
<rect x="427.0" y="416.1" width="5.8" height="10.7" fill="#000080"/>
<rect x="427.0" y="416.1" width="5.8" height="93.7" fill="none" stroke="#1a1a1a" stroke-width="0.9"/>
<text x="440.5" y="513.9" font-size="10.5" text-anchor="start" textLength="5.8" lengthAdjust="spacingAndGlyphs">2</text>
<text x="440.5" y="469.8" font-size="10.5" text-anchor="start" textLength="12.2" lengthAdjust="spacingAndGlyphs">20</text>
<text x="440.5" y="420.7" font-size="10.5" text-anchor="start" textLength="12.2" lengthAdjust="spacingAndGlyphs">40</text>
<path d="M432.8,509.3h3M432.8,465.2h3M432.8,416.1h3" stroke="#000" stroke-width="1" fill="none"/>
</g>
</svg>
</body></html>
